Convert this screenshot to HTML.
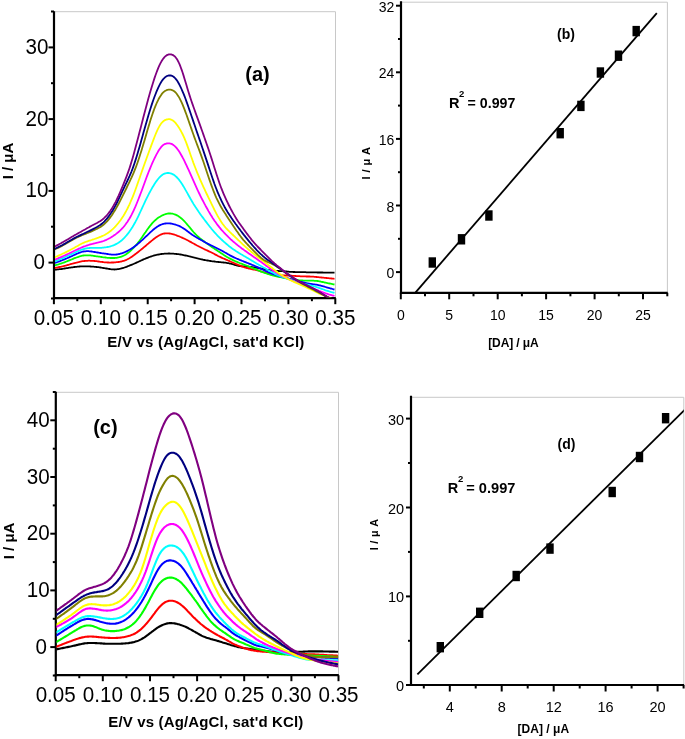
<!DOCTYPE html><html><head><meta charset="utf-8"><style>html,body{margin:0;padding:0;background:#fff;}svg{display:block;will-change:transform}</style></head><body>
<svg width="685" height="739" viewBox="0 0 685 739" font-family='"Liberation Sans", sans-serif' fill="#000">
<defs><clipPath id="ca"><rect x="55.0" y="11.2" width="280.5" height="286.0"/></clipPath>
<clipPath id="cc"><rect x="56.5" y="391.8" width="281.7" height="282.40000000000003"/></clipPath></defs>
<path d="M54,11.7 H335.5 V298.2" fill="none" stroke="#c8c8c8" stroke-width="1"/>
<line x1="54" y1="11.2" x2="54" y2="299.3" stroke="#000" stroke-width="2.2"/>
<line x1="52.9" y1="298.2" x2="335.8" y2="298.2" stroke="#000" stroke-width="2.2"/>
<line x1="48.5" y1="262.6" x2="54" y2="262.6" stroke="#000" stroke-width="2"/>
<line x1="48.5" y1="190.9" x2="54" y2="190.9" stroke="#000" stroke-width="2"/>
<line x1="48.5" y1="119.1" x2="54" y2="119.1" stroke="#000" stroke-width="2"/>
<line x1="48.5" y1="47.4" x2="54" y2="47.4" stroke="#000" stroke-width="2"/>
<line x1="51" y1="298.5" x2="54" y2="298.5" stroke="#000" stroke-width="2"/>
<line x1="51" y1="226.7" x2="54" y2="226.7" stroke="#000" stroke-width="2"/>
<line x1="51" y1="155" x2="54" y2="155" stroke="#000" stroke-width="2"/>
<line x1="51" y1="83.2" x2="54" y2="83.2" stroke="#000" stroke-width="2"/>
<line x1="51" y1="11.5" x2="54" y2="11.5" stroke="#000" stroke-width="2"/>
<line x1="53.9" y1="298.2" x2="53.9" y2="304.2" stroke="#000" stroke-width="2"/>
<line x1="100.8" y1="298.2" x2="100.8" y2="304.2" stroke="#000" stroke-width="2"/>
<line x1="147.7" y1="298.2" x2="147.7" y2="304.2" stroke="#000" stroke-width="2"/>
<line x1="194.6" y1="298.2" x2="194.6" y2="304.2" stroke="#000" stroke-width="2"/>
<line x1="241.5" y1="298.2" x2="241.5" y2="304.2" stroke="#000" stroke-width="2"/>
<line x1="288.4" y1="298.2" x2="288.4" y2="304.2" stroke="#000" stroke-width="2"/>
<line x1="335.3" y1="298.2" x2="335.3" y2="304.2" stroke="#000" stroke-width="2"/>
<line x1="77.3" y1="298.2" x2="77.3" y2="301.2" stroke="#000" stroke-width="2"/>
<line x1="124.2" y1="298.2" x2="124.2" y2="301.2" stroke="#000" stroke-width="2"/>
<line x1="171.1" y1="298.2" x2="171.1" y2="301.2" stroke="#000" stroke-width="2"/>
<line x1="218.1" y1="298.2" x2="218.1" y2="301.2" stroke="#000" stroke-width="2"/>
<line x1="265" y1="298.2" x2="265" y2="301.2" stroke="#000" stroke-width="2"/>
<line x1="311.9" y1="298.2" x2="311.9" y2="301.2" stroke="#000" stroke-width="2"/>
<text transform="translate(45,269.1) scale(0.95,1)" font-size="21.7" text-anchor="end">0</text>
<text transform="translate(48.4,197.4) scale(0.95,1)" font-size="21.7" text-anchor="end">10</text>
<text transform="translate(48.4,125.6) scale(0.95,1)" font-size="21.7" text-anchor="end">20</text>
<text transform="translate(48.4,53.9) scale(0.95,1)" font-size="21.7" text-anchor="end">30</text>
<text transform="translate(53.9,324.5) scale(0.95,1)" font-size="21.7" text-anchor="middle">0.05</text>
<text transform="translate(100.8,324.5) scale(0.95,1)" font-size="21.7" text-anchor="middle">0.10</text>
<text transform="translate(147.7,324.5) scale(0.95,1)" font-size="21.7" text-anchor="middle">0.15</text>
<text transform="translate(194.6,324.5) scale(0.95,1)" font-size="21.7" text-anchor="middle">0.20</text>
<text transform="translate(241.5,324.5) scale(0.95,1)" font-size="21.7" text-anchor="middle">0.25</text>
<text transform="translate(288.4,324.5) scale(0.95,1)" font-size="21.7" text-anchor="middle">0.30</text>
<text transform="translate(335.3,324.5) scale(0.95,1)" font-size="21.7" text-anchor="middle">0.35</text>
<text x="107.3" y="347.1" font-size="15" text-anchor="start" font-weight="bold" textLength="197" lengthAdjust="spacing">E/V vs (Ag/AgCl, sat'd KCl)</text>
<text transform="translate(12.7,161) rotate(-90)" font-size="15" font-weight="bold" text-anchor="middle">I / μA</text>
<text x="245.3" y="80.8" font-size="20" text-anchor="start" font-weight="bold">(a)</text>
<path d="M53.5,269.9 L54.5,269.8 L55.5,269.7 L56.5,269.6 L57.5,269.4 L58.5,269.3 L59.5,269.2 L60.5,269.1 L61.5,269 L62.5,268.8 L63.5,268.7 L64.5,268.5 L65.5,268.4 L66.5,268.2 L67.5,268.1 L68.5,267.9 L69.5,267.7 L70.5,267.6 L71.5,267.4 L72.5,267.3 L73.5,267.1 L74.5,267 L75.5,266.9 L76.5,266.8 L77.5,266.7 L78.5,266.6 L79.5,266.5 L80.5,266.4 L81.5,266.4 L82.5,266.4 L83.5,266.3 L84.5,266.3 L85.5,266.3 L86.5,266.3 L87.5,266.4 L88.5,266.4 L89.5,266.4 L90.5,266.5 L91.5,266.6 L92.5,266.6 L93.5,266.7 L94.5,266.8 L95.5,266.9 L96.5,267 L97.5,267.1 L98.5,267.2 L99.5,267.4 L100.5,267.5 L101.5,267.7 L102.5,267.8 L103.5,268 L104.5,268.1 L105.5,268.3 L106.5,268.5 L107.5,268.7 L108.5,268.9 L109.5,269 L110.5,269.2 L111.5,269.3 L112.5,269.4 L113.5,269.4 L114.5,269.5 L115.5,269.4 L116.5,269.4 L117.5,269.2 L118.5,269.1 L119.5,268.9 L120.5,268.7 L121.5,268.4 L122.5,268.1 L123.5,267.8 L124.5,267.5 L125.5,267.1 L126.5,266.8 L127.5,266.4 L128.5,266 L129.5,265.6 L130.5,265.2 L131.5,264.8 L132.5,264.4 L133.5,264 L134.5,263.5 L135.5,263.1 L136.5,262.6 L137.5,262.2 L138.5,261.7 L139.5,261.2 L140.5,260.8 L141.5,260.3 L142.5,259.9 L143.5,259.4 L144.5,259 L145.5,258.6 L146.5,258.2 L147.5,257.8 L148.5,257.4 L149.5,257 L150.5,256.6 L151.5,256.3 L152.5,256 L153.5,255.7 L154.5,255.4 L155.5,255.1 L156.5,254.9 L157.5,254.6 L158.5,254.5 L159.5,254.3 L160.5,254.1 L161.5,254 L162.5,253.9 L163.5,253.8 L164.5,253.7 L165.5,253.6 L166.5,253.6 L167.5,253.6 L168.5,253.5 L169.5,253.5 L170.5,253.6 L171.5,253.6 L172.5,253.6 L173.5,253.7 L174.5,253.8 L175.5,253.9 L176.5,254 L177.5,254.1 L178.5,254.2 L179.5,254.4 L180.5,254.5 L181.5,254.7 L182.5,254.9 L183.5,255.1 L184.5,255.3 L185.5,255.5 L186.5,255.7 L187.5,255.9 L188.5,256.2 L189.5,256.4 L190.5,256.6 L191.5,256.9 L192.5,257.1 L193.5,257.4 L194.5,257.6 L195.5,257.9 L196.5,258.1 L197.5,258.4 L198.5,258.6 L199.5,258.9 L200.5,259.1 L201.5,259.3 L202.5,259.5 L203.5,259.8 L204.5,260 L205.5,260.2 L206.5,260.3 L207.5,260.5 L208.5,260.7 L209.5,260.9 L210.5,261 L211.5,261.2 L212.5,261.3 L213.5,261.4 L214.5,261.5 L215.5,261.7 L216.5,261.8 L217.5,261.9 L218.5,262 L219.5,262.1 L220.5,262.2 L221.5,262.3 L222.5,262.4 L223.5,262.5 L224.5,262.6 L225.5,262.7 L226.5,262.9 L227.5,263.1 L228.5,263.2 L229.5,263.5 L230.5,263.7 L231.5,263.9 L232.5,264.2 L233.5,264.5 L234.5,264.8 L235.5,265 L236.5,265.3 L237.5,265.6 L238.5,265.8 L239.5,266 L240.5,266.1 L241.5,266.3 L242.5,266.3 L243.5,266.4 L244.5,266.4 L245.5,266.5 L246.5,266.5 L247.5,266.6 L248.5,266.7 L249.5,266.8 L250.5,266.9 L251.5,267 L252.5,267.2 L253.5,267.3 L254.5,267.5 L255.5,267.6 L256.5,267.8 L257.5,267.9 L258.5,268.1 L259.5,268.3 L260.5,268.5 L261.5,268.7 L262.5,268.9 L263.5,269.1 L264.5,269.2 L265.5,269.4 L266.5,269.6 L267.5,269.8 L268.5,269.9 L269.5,270.1 L270.5,270.2 L271.5,270.4 L272.5,270.5 L273.5,270.6 L274.5,270.7 L275.5,270.8 L276.5,270.9 L277.5,270.9 L278.5,271 L279.5,271.1 L280.5,271.1 L281.5,271.2 L282.5,271.2 L283.5,271.3 L284.5,271.4 L285.5,271.5 L286.5,271.5 L287.5,271.6 L288.5,271.7 L289.5,271.8 L290.5,271.8 L291.5,271.9 L292.5,271.9 L293.5,272 L294.5,272 L295.5,272.1 L296.5,272.1 L297.5,272.1 L298.5,272.1 L299.5,272.2 L300.5,272.2 L301.5,272.2 L302.5,272.2 L303.5,272.2 L304.5,272.2 L305.5,272.2 L306.5,272.3 L307.5,272.3 L308.5,272.3 L309.5,272.3 L310.5,272.3 L311.5,272.3 L312.5,272.4 L313.5,272.4 L314.5,272.4 L315.5,272.4 L316.5,272.4 L317.5,272.5 L318.5,272.5 L319.5,272.5 L320.5,272.5 L321.5,272.5 L322.5,272.5 L323.5,272.6 L324.5,272.6 L325.5,272.6 L326.5,272.6 L327.5,272.6 L328.5,272.6 L329.5,272.6 L330.5,272.6 L331.5,272.7 L332.5,272.7 L333.5,272.7 L334.5,272.7" fill="none" stroke="#000000" stroke-width="1.8" stroke-linejoin="round" clip-path="url(#ca)"/>
<path d="M53.5,268.3 L54.5,268.1 L55.5,267.9 L56.5,267.7 L57.5,267.5 L58.5,267.2 L59.5,267 L60.5,266.8 L61.5,266.6 L62.5,266.3 L63.5,266.1 L64.5,265.8 L65.5,265.6 L66.5,265.3 L67.5,265 L68.5,264.8 L69.5,264.5 L70.5,264.2 L71.5,263.9 L72.5,263.7 L73.5,263.4 L74.5,263.1 L75.5,262.8 L76.5,262.6 L77.5,262.3 L78.5,262.1 L79.5,261.8 L80.5,261.6 L81.5,261.4 L82.5,261.2 L83.5,261.1 L84.5,261 L85.5,260.9 L86.5,260.8 L87.5,260.8 L88.5,260.7 L89.5,260.7 L90.5,260.8 L91.5,260.8 L92.5,260.9 L93.5,260.9 L94.5,261 L95.5,261.1 L96.5,261.2 L97.5,261.4 L98.5,261.5 L99.5,261.6 L100.5,261.8 L101.5,261.9 L102.5,262 L103.5,262.2 L104.5,262.3 L105.5,262.4 L106.5,262.4 L107.5,262.5 L108.5,262.5 L109.5,262.6 L110.5,262.6 L111.5,262.5 L112.5,262.5 L113.5,262.5 L114.5,262.4 L115.5,262.3 L116.5,262.2 L117.5,262.1 L118.5,262 L119.5,261.9 L120.5,261.7 L121.5,261.5 L122.5,261.2 L123.5,260.9 L124.5,260.6 L125.5,260.2 L126.5,259.8 L127.5,259.3 L128.5,258.7 L129.5,258.2 L130.5,257.6 L131.5,256.9 L132.5,256.2 L133.5,255.5 L134.5,254.8 L135.5,254 L136.5,253.3 L137.5,252.5 L138.5,251.7 L139.5,250.9 L140.5,250.1 L141.5,249.3 L142.5,248.5 L143.5,247.6 L144.5,246.8 L145.5,246 L146.5,245.1 L147.5,244.2 L148.5,243.4 L149.5,242.5 L150.5,241.7 L151.5,240.9 L152.5,240.1 L153.5,239.3 L154.5,238.5 L155.5,237.8 L156.5,237.1 L157.5,236.4 L158.5,235.8 L159.5,235.2 L160.5,234.7 L161.5,234.3 L162.5,233.9 L163.5,233.7 L164.5,233.5 L165.5,233.4 L166.5,233.3 L167.5,233.3 L168.5,233.4 L169.5,233.5 L170.5,233.7 L171.5,233.9 L172.5,234.1 L173.5,234.4 L174.5,234.7 L175.5,235 L176.5,235.4 L177.5,235.8 L178.5,236.1 L179.5,236.5 L180.5,237 L181.5,237.4 L182.5,237.9 L183.5,238.3 L184.5,238.8 L185.5,239.3 L186.5,239.8 L187.5,240.3 L188.5,240.8 L189.5,241.4 L190.5,241.9 L191.5,242.4 L192.5,243 L193.5,243.5 L194.5,244.1 L195.5,244.6 L196.5,245.2 L197.5,245.7 L198.5,246.2 L199.5,246.8 L200.5,247.3 L201.5,247.8 L202.5,248.3 L203.5,248.8 L204.5,249.3 L205.5,249.7 L206.5,250.2 L207.5,250.6 L208.5,251.1 L209.5,251.6 L210.5,252 L211.5,252.5 L212.5,253 L213.5,253.5 L214.5,254.1 L215.5,254.6 L216.5,255.1 L217.5,255.7 L218.5,256.2 L219.5,256.7 L220.5,257.1 L221.5,257.6 L222.5,258.1 L223.5,258.5 L224.5,258.9 L225.5,259.4 L226.5,259.8 L227.5,260.2 L228.5,260.7 L229.5,261.1 L230.5,261.5 L231.5,262 L232.5,262.4 L233.5,262.8 L234.5,263.3 L235.5,263.7 L236.5,264.2 L237.5,264.6 L238.5,265 L239.5,265.4 L240.5,265.8 L241.5,266.2 L242.5,266.6 L243.5,267 L244.5,267.3 L245.5,267.6 L246.5,268 L247.5,268.2 L248.5,268.5 L249.5,268.7 L250.5,268.9 L251.5,269.1 L252.5,269.3 L253.5,269.5 L254.5,269.7 L255.5,269.9 L256.5,270.2 L257.5,270.4 L258.5,270.7 L259.5,271 L260.5,271.3 L261.5,271.6 L262.5,271.9 L263.5,272.2 L264.5,272.4 L265.5,272.7 L266.5,273 L267.5,273.3 L268.5,273.5 L269.5,273.8 L270.5,274 L271.5,274.2 L272.5,274.4 L273.5,274.5 L274.5,274.7 L275.5,274.8 L276.5,275 L277.5,275.1 L278.5,275.2 L279.5,275.2 L280.5,275.3 L281.5,275.4 L282.5,275.4 L283.5,275.5 L284.5,275.5 L285.5,275.5 L286.5,275.5 L287.5,275.6 L288.5,275.6 L289.5,275.6 L290.5,275.7 L291.5,275.7 L292.5,275.8 L293.5,275.9 L294.5,275.9 L295.5,276 L296.5,276.1 L297.5,276.1 L298.5,276.2 L299.5,276.2 L300.5,276.3 L301.5,276.3 L302.5,276.4 L303.5,276.4 L304.5,276.4 L305.5,276.4 L306.5,276.5 L307.5,276.5 L308.5,276.5 L309.5,276.5 L310.5,276.6 L311.5,276.6 L312.5,276.7 L313.5,276.7 L314.5,276.8 L315.5,276.9 L316.5,277 L317.5,277.1 L318.5,277.2 L319.5,277.3 L320.5,277.4 L321.5,277.5 L322.5,277.6 L323.5,277.7 L324.5,277.8 L325.5,277.9 L326.5,278 L327.5,278.1 L328.5,278.2 L329.5,278.3 L330.5,278.4 L331.5,278.5 L332.5,278.6 L333.5,278.7 L334.5,278.8" fill="none" stroke="#ff0000" stroke-width="1.8" stroke-linejoin="round" clip-path="url(#ca)"/>
<path d="M53.5,265.8 L54.5,265.5 L55.5,265.2 L56.5,264.9 L57.5,264.6 L58.5,264.3 L59.5,264 L60.5,263.7 L61.5,263.3 L62.5,263 L63.5,262.7 L64.5,262.3 L65.5,261.9 L66.5,261.5 L67.5,261.1 L68.5,260.7 L69.5,260.3 L70.5,259.9 L71.5,259.5 L72.5,259.1 L73.5,258.6 L74.5,258.2 L75.5,257.8 L76.5,257.5 L77.5,257.1 L78.5,256.8 L79.5,256.4 L80.5,256.2 L81.5,255.9 L82.5,255.7 L83.5,255.5 L84.5,255.4 L85.5,255.3 L86.5,255.3 L87.5,255.3 L88.5,255.3 L89.5,255.4 L90.5,255.4 L91.5,255.6 L92.5,255.7 L93.5,255.8 L94.5,256 L95.5,256.1 L96.5,256.3 L97.5,256.4 L98.5,256.6 L99.5,256.7 L100.5,256.9 L101.5,257 L102.5,257.2 L103.5,257.3 L104.5,257.4 L105.5,257.5 L106.5,257.7 L107.5,257.8 L108.5,257.9 L109.5,257.9 L110.5,258 L111.5,258 L112.5,258 L113.5,258 L114.5,258 L115.5,257.9 L116.5,257.8 L117.5,257.6 L118.5,257.4 L119.5,257.2 L120.5,256.9 L121.5,256.6 L122.5,256.2 L123.5,255.7 L124.5,255.2 L125.5,254.7 L126.5,254 L127.5,253.3 L128.5,252.6 L129.5,251.7 L130.5,250.9 L131.5,249.9 L132.5,248.9 L133.5,247.9 L134.5,246.8 L135.5,245.7 L136.5,244.6 L137.5,243.4 L138.5,242.1 L139.5,240.8 L140.5,239.4 L141.5,238 L142.5,236.6 L143.5,235.1 L144.5,233.6 L145.5,232.2 L146.5,230.7 L147.5,229.3 L148.5,227.9 L149.5,226.6 L150.5,225.3 L151.5,224.1 L152.5,222.9 L153.5,221.9 L154.5,220.9 L155.5,220 L156.5,219.1 L157.5,218.3 L158.5,217.6 L159.5,217 L160.5,216.4 L161.5,215.8 L162.5,215.3 L163.5,214.9 L164.5,214.5 L165.5,214.1 L166.5,213.9 L167.5,213.7 L168.5,213.5 L169.5,213.5 L170.5,213.5 L171.5,213.6 L172.5,213.7 L173.5,214 L174.5,214.3 L175.5,214.6 L176.5,215.1 L177.5,215.6 L178.5,216.2 L179.5,216.9 L180.5,217.7 L181.5,218.5 L182.5,219.4 L183.5,220.4 L184.5,221.4 L185.5,222.5 L186.5,223.6 L187.5,224.8 L188.5,226 L189.5,227.2 L190.5,228.4 L191.5,229.6 L192.5,230.8 L193.5,232 L194.5,233.1 L195.5,234.2 L196.5,235.2 L197.5,236.1 L198.5,237 L199.5,237.9 L200.5,238.7 L201.5,239.5 L202.5,240.3 L203.5,241.1 L204.5,241.8 L205.5,242.5 L206.5,243.2 L207.5,243.9 L208.5,244.6 L209.5,245.3 L210.5,246 L211.5,246.7 L212.5,247.4 L213.5,248.1 L214.5,248.7 L215.5,249.4 L216.5,250.1 L217.5,250.8 L218.5,251.4 L219.5,252.1 L220.5,252.8 L221.5,253.5 L222.5,254.1 L223.5,254.8 L224.5,255.4 L225.5,256.1 L226.5,256.7 L227.5,257.3 L228.5,257.8 L229.5,258.4 L230.5,258.9 L231.5,259.4 L232.5,259.9 L233.5,260.4 L234.5,260.8 L235.5,261.3 L236.5,261.7 L237.5,262.1 L238.5,262.5 L239.5,263 L240.5,263.4 L241.5,263.7 L242.5,264.1 L243.5,264.5 L244.5,264.9 L245.5,265.3 L246.5,265.7 L247.5,266 L248.5,266.4 L249.5,266.8 L250.5,267.2 L251.5,267.6 L252.5,268 L253.5,268.4 L254.5,268.8 L255.5,269.2 L256.5,269.6 L257.5,270 L258.5,270.5 L259.5,270.9 L260.5,271.3 L261.5,271.7 L262.5,272.1 L263.5,272.5 L264.5,272.9 L265.5,273.2 L266.5,273.5 L267.5,273.9 L268.5,274.2 L269.5,274.5 L270.5,274.8 L271.5,275 L272.5,275.3 L273.5,275.6 L274.5,275.8 L275.5,276.1 L276.5,276.3 L277.5,276.6 L278.5,276.8 L279.5,277 L280.5,277.2 L281.5,277.4 L282.5,277.6 L283.5,277.8 L284.5,278 L285.5,278.1 L286.5,278.3 L287.5,278.5 L288.5,278.6 L289.5,278.8 L290.5,279 L291.5,279.1 L292.5,279.3 L293.5,279.4 L294.5,279.6 L295.5,279.8 L296.5,279.9 L297.5,280 L298.5,280.2 L299.5,280.3 L300.5,280.4 L301.5,280.4 L302.5,280.5 L303.5,280.6 L304.5,280.6 L305.5,280.6 L306.5,280.7 L307.5,280.7 L308.5,280.7 L309.5,280.7 L310.5,280.7 L311.5,280.7 L312.5,280.7 L313.5,280.7 L314.5,280.8 L315.5,280.8 L316.5,280.9 L317.5,281 L318.5,281.1 L319.5,281.3 L320.5,281.5 L321.5,281.8 L322.5,282 L323.5,282.2 L324.5,282.5 L325.5,282.7 L326.5,282.9 L327.5,283.1 L328.5,283.3 L329.5,283.5 L330.5,283.7 L331.5,283.9 L332.5,284.1 L333.5,284.3 L334.5,284.5" fill="none" stroke="#00ff00" stroke-width="1.8" stroke-linejoin="round" clip-path="url(#ca)"/>
<path d="M53.5,263.5 L54.5,263.1 L55.5,262.7 L56.5,262.4 L57.5,262 L58.5,261.7 L59.5,261.3 L60.5,260.9 L61.5,260.5 L62.5,260.1 L63.5,259.7 L64.5,259.3 L65.5,258.9 L66.5,258.5 L67.5,258 L68.5,257.6 L69.5,257.1 L70.5,256.7 L71.5,256.2 L72.5,255.8 L73.5,255.3 L74.5,254.8 L75.5,254.4 L76.5,253.9 L77.5,253.5 L78.5,253.1 L79.5,252.7 L80.5,252.3 L81.5,252 L82.5,251.7 L83.5,251.5 L84.5,251.4 L85.5,251.3 L86.5,251.2 L87.5,251.2 L88.5,251.2 L89.5,251.3 L90.5,251.4 L91.5,251.5 L92.5,251.7 L93.5,251.8 L94.5,252 L95.5,252.2 L96.5,252.4 L97.5,252.5 L98.5,252.7 L99.5,252.9 L100.5,253 L101.5,253.2 L102.5,253.3 L103.5,253.4 L104.5,253.6 L105.5,253.7 L106.5,253.9 L107.5,254 L108.5,254.2 L109.5,254.3 L110.5,254.4 L111.5,254.6 L112.5,254.6 L113.5,254.7 L114.5,254.7 L115.5,254.6 L116.5,254.5 L117.5,254.4 L118.5,254.2 L119.5,254 L120.5,253.7 L121.5,253.4 L122.5,253.1 L123.5,252.7 L124.5,252.3 L125.5,251.8 L126.5,251.4 L127.5,250.9 L128.5,250.3 L129.5,249.8 L130.5,249.2 L131.5,248.6 L132.5,247.9 L133.5,247.2 L134.5,246.5 L135.5,245.8 L136.5,245 L137.5,244.2 L138.5,243.3 L139.5,242.5 L140.5,241.6 L141.5,240.7 L142.5,239.8 L143.5,238.8 L144.5,237.9 L145.5,236.9 L146.5,236 L147.5,235.1 L148.5,234.1 L149.5,233.2 L150.5,232.2 L151.5,231.3 L152.5,230.4 L153.5,229.5 L154.5,228.7 L155.5,227.9 L156.5,227.2 L157.5,226.5 L158.5,225.9 L159.5,225.4 L160.5,224.9 L161.5,224.5 L162.5,224.2 L163.5,223.9 L164.5,223.7 L165.5,223.5 L166.5,223.4 L167.5,223.3 L168.5,223.4 L169.5,223.4 L170.5,223.5 L171.5,223.7 L172.5,223.9 L173.5,224.2 L174.5,224.4 L175.5,224.7 L176.5,225 L177.5,225.4 L178.5,225.7 L179.5,226.1 L180.5,226.6 L181.5,227.2 L182.5,227.7 L183.5,228.4 L184.5,229.1 L185.5,229.8 L186.5,230.5 L187.5,231.3 L188.5,232 L189.5,232.8 L190.5,233.5 L191.5,234.2 L192.5,234.9 L193.5,235.5 L194.5,236.2 L195.5,236.8 L196.5,237.4 L197.5,238 L198.5,238.6 L199.5,239.1 L200.5,239.7 L201.5,240.3 L202.5,240.8 L203.5,241.4 L204.5,241.9 L205.5,242.5 L206.5,243 L207.5,243.6 L208.5,244.1 L209.5,244.6 L210.5,245.1 L211.5,245.5 L212.5,246 L213.5,246.5 L214.5,247 L215.5,247.5 L216.5,248 L217.5,248.5 L218.5,249 L219.5,249.5 L220.5,250 L221.5,250.5 L222.5,251.1 L223.5,251.6 L224.5,252.2 L225.5,252.7 L226.5,253.3 L227.5,253.9 L228.5,254.5 L229.5,255.1 L230.5,255.6 L231.5,256.1 L232.5,256.6 L233.5,257.1 L234.5,257.6 L235.5,258 L236.5,258.5 L237.5,258.9 L238.5,259.3 L239.5,259.8 L240.5,260.2 L241.5,260.6 L242.5,261 L243.5,261.4 L244.5,261.8 L245.5,262.2 L246.5,262.6 L247.5,263 L248.5,263.4 L249.5,263.8 L250.5,264.2 L251.5,264.6 L252.5,265 L253.5,265.4 L254.5,265.8 L255.5,266.3 L256.5,266.7 L257.5,267.1 L258.5,267.6 L259.5,268.1 L260.5,268.5 L261.5,269 L262.5,269.5 L263.5,270 L264.5,270.5 L265.5,271 L266.5,271.5 L267.5,271.9 L268.5,272.3 L269.5,272.7 L270.5,273.1 L271.5,273.5 L272.5,273.9 L273.5,274.2 L274.5,274.5 L275.5,274.8 L276.5,275.2 L277.5,275.5 L278.5,275.8 L279.5,276 L280.5,276.3 L281.5,276.6 L282.5,276.9 L283.5,277.2 L284.5,277.5 L285.5,277.8 L286.5,278 L287.5,278.3 L288.5,278.6 L289.5,278.9 L290.5,279.2 L291.5,279.4 L292.5,279.7 L293.5,280 L294.5,280.2 L295.5,280.5 L296.5,280.8 L297.5,281 L298.5,281.3 L299.5,281.5 L300.5,281.8 L301.5,282 L302.5,282.2 L303.5,282.5 L304.5,282.7 L305.5,282.9 L306.5,283.1 L307.5,283.3 L308.5,283.5 L309.5,283.6 L310.5,283.8 L311.5,284 L312.5,284.1 L313.5,284.3 L314.5,284.4 L315.5,284.6 L316.5,284.7 L317.5,284.9 L318.5,285.1 L319.5,285.3 L320.5,285.5 L321.5,285.8 L322.5,286.1 L323.5,286.4 L324.5,286.7 L325.5,287 L326.5,287.3 L327.5,287.6 L328.5,287.9 L329.5,288.2 L330.5,288.5 L331.5,288.7 L332.5,289 L333.5,289.3 L334.5,289.5" fill="none" stroke="#0000ff" stroke-width="1.8" stroke-linejoin="round" clip-path="url(#ca)"/>
<path d="M53.5,261.9 L54.5,261.5 L55.5,261.1 L56.5,260.7 L57.5,260.3 L58.5,259.8 L59.5,259.4 L60.5,259 L61.5,258.6 L62.5,258.1 L63.5,257.7 L64.5,257.3 L65.5,256.8 L66.5,256.4 L67.5,255.9 L68.5,255.5 L69.5,255 L70.5,254.6 L71.5,254.1 L72.5,253.7 L73.5,253.2 L74.5,252.7 L75.5,252.3 L76.5,251.8 L77.5,251.4 L78.5,250.9 L79.5,250.5 L80.5,250.1 L81.5,249.7 L82.5,249.4 L83.5,249.1 L84.5,248.8 L85.5,248.5 L86.5,248.4 L87.5,248.2 L88.5,248.1 L89.5,248 L90.5,247.9 L91.5,247.8 L92.5,247.8 L93.5,247.8 L94.5,247.8 L95.5,247.8 L96.5,247.9 L97.5,247.9 L98.5,247.9 L99.5,247.9 L100.5,247.8 L101.5,247.8 L102.5,247.7 L103.5,247.6 L104.5,247.4 L105.5,247.3 L106.5,247.2 L107.5,247 L108.5,246.8 L109.5,246.6 L110.5,246.3 L111.5,246 L112.5,245.7 L113.5,245.3 L114.5,244.9 L115.5,244.4 L116.5,243.9 L117.5,243.3 L118.5,242.7 L119.5,242 L120.5,241.3 L121.5,240.5 L122.5,239.6 L123.5,238.6 L124.5,237.6 L125.5,236.5 L126.5,235.4 L127.5,234.2 L128.5,232.9 L129.5,231.5 L130.5,230.1 L131.5,228.6 L132.5,227 L133.5,225.3 L134.5,223.5 L135.5,221.7 L136.5,219.8 L137.5,217.8 L138.5,215.8 L139.5,213.7 L140.5,211.5 L141.5,209.4 L142.5,207.2 L143.5,205 L144.5,202.8 L145.5,200.7 L146.5,198.6 L147.5,196.6 L148.5,194.6 L149.5,192.7 L150.5,190.9 L151.5,189.1 L152.5,187.3 L153.5,185.7 L154.5,184.1 L155.5,182.6 L156.5,181.1 L157.5,179.8 L158.5,178.5 L159.5,177.4 L160.5,176.4 L161.5,175.5 L162.5,174.7 L163.5,174.1 L164.5,173.7 L165.5,173.3 L166.5,173.1 L167.5,173 L168.5,173 L169.5,173.1 L170.5,173.3 L171.5,173.7 L172.5,174.1 L173.5,174.6 L174.5,175.3 L175.5,176.1 L176.5,177 L177.5,178 L178.5,179.2 L179.5,180.4 L180.5,181.8 L181.5,183.3 L182.5,184.8 L183.5,186.4 L184.5,188.1 L185.5,189.9 L186.5,191.6 L187.5,193.4 L188.5,195.2 L189.5,197 L190.5,198.8 L191.5,200.5 L192.5,202.2 L193.5,203.9 L194.5,205.5 L195.5,207.1 L196.5,208.6 L197.5,210.1 L198.5,211.6 L199.5,213 L200.5,214.4 L201.5,215.8 L202.5,217.1 L203.5,218.4 L204.5,219.8 L205.5,221.1 L206.5,222.4 L207.5,223.7 L208.5,225 L209.5,226.3 L210.5,227.5 L211.5,228.8 L212.5,230 L213.5,231.2 L214.5,232.3 L215.5,233.4 L216.5,234.5 L217.5,235.6 L218.5,236.6 L219.5,237.6 L220.5,238.6 L221.5,239.5 L222.5,240.5 L223.5,241.4 L224.5,242.3 L225.5,243.1 L226.5,244 L227.5,244.8 L228.5,245.7 L229.5,246.5 L230.5,247.2 L231.5,248 L232.5,248.7 L233.5,249.4 L234.5,250.1 L235.5,250.8 L236.5,251.4 L237.5,252 L238.5,252.7 L239.5,253.3 L240.5,253.9 L241.5,254.5 L242.5,255.1 L243.5,255.7 L244.5,256.2 L245.5,256.8 L246.5,257.4 L247.5,258 L248.5,258.6 L249.5,259.2 L250.5,259.8 L251.5,260.4 L252.5,261 L253.5,261.6 L254.5,262.2 L255.5,262.8 L256.5,263.4 L257.5,264 L258.5,264.6 L259.5,265.2 L260.5,265.8 L261.5,266.3 L262.5,266.9 L263.5,267.5 L264.5,268 L265.5,268.6 L266.5,269.2 L267.5,269.7 L268.5,270.3 L269.5,270.9 L270.5,271.4 L271.5,272 L272.5,272.5 L273.5,273 L274.5,273.6 L275.5,274.1 L276.5,274.6 L277.5,275 L278.5,275.5 L279.5,275.9 L280.5,276.3 L281.5,276.7 L282.5,277.1 L283.5,277.4 L284.5,277.8 L285.5,278.1 L286.5,278.5 L287.5,278.8 L288.5,279.1 L289.5,279.5 L290.5,279.8 L291.5,280.2 L292.5,280.5 L293.5,280.9 L294.5,281.2 L295.5,281.5 L296.5,281.9 L297.5,282.2 L298.5,282.5 L299.5,282.8 L300.5,283 L301.5,283.3 L302.5,283.5 L303.5,283.8 L304.5,284 L305.5,284.2 L306.5,284.5 L307.5,284.7 L308.5,284.9 L309.5,285.2 L310.5,285.4 L311.5,285.6 L312.5,285.9 L313.5,286.2 L314.5,286.5 L315.5,286.7 L316.5,287.1 L317.5,287.4 L318.5,287.7 L319.5,288.1 L320.5,288.4 L321.5,288.8 L322.5,289.2 L323.5,289.5 L324.5,289.9 L325.5,290.3 L326.5,290.6 L327.5,290.9 L328.5,291.2 L329.5,291.5 L330.5,291.8 L331.5,292.1 L332.5,292.3 L333.5,292.6 L334.5,292.9" fill="none" stroke="#00ffff" stroke-width="1.8" stroke-linejoin="round" clip-path="url(#ca)"/>
<path d="M53.5,260.2 L54.5,259.8 L55.5,259.4 L56.5,259 L57.5,258.6 L58.5,258.1 L59.5,257.7 L60.5,257.3 L61.5,256.9 L62.5,256.4 L63.5,256 L64.5,255.5 L65.5,255.1 L66.5,254.6 L67.5,254.2 L68.5,253.7 L69.5,253.2 L70.5,252.7 L71.5,252.3 L72.5,251.8 L73.5,251.3 L74.5,250.8 L75.5,250.3 L76.5,249.8 L77.5,249.4 L78.5,248.9 L79.5,248.4 L80.5,248 L81.5,247.5 L82.5,247.1 L83.5,246.7 L84.5,246.3 L85.5,246 L86.5,245.6 L87.5,245.3 L88.5,245 L89.5,244.7 L90.5,244.4 L91.5,244.1 L92.5,243.9 L93.5,243.6 L94.5,243.3 L95.5,243.1 L96.5,242.8 L97.5,242.6 L98.5,242.4 L99.5,242.1 L100.5,241.9 L101.5,241.6 L102.5,241.3 L103.5,241 L104.5,240.6 L105.5,240.2 L106.5,239.8 L107.5,239.3 L108.5,238.8 L109.5,238.2 L110.5,237.7 L111.5,237.1 L112.5,236.4 L113.5,235.8 L114.5,235.1 L115.5,234.4 L116.5,233.6 L117.5,232.8 L118.5,232 L119.5,231.1 L120.5,230.2 L121.5,229.2 L122.5,228.1 L123.5,227 L124.5,225.8 L125.5,224.5 L126.5,223.1 L127.5,221.7 L128.5,220.1 L129.5,218.5 L130.5,216.7 L131.5,214.9 L132.5,212.9 L133.5,210.8 L134.5,208.6 L135.5,206.4 L136.5,204 L137.5,201.5 L138.5,199 L139.5,196.4 L140.5,193.8 L141.5,191.2 L142.5,188.5 L143.5,185.7 L144.5,183 L145.5,180.3 L146.5,177.5 L147.5,174.9 L148.5,172.3 L149.5,169.8 L150.5,167.3 L151.5,165 L152.5,162.7 L153.5,160.5 L154.5,158.4 L155.5,156.3 L156.5,154.4 L157.5,152.6 L158.5,150.8 L159.5,149.3 L160.5,147.9 L161.5,146.7 L162.5,145.6 L163.5,144.8 L164.5,144.2 L165.5,143.8 L166.5,143.5 L167.5,143.3 L168.5,143.3 L169.5,143.4 L170.5,143.6 L171.5,143.9 L172.5,144.4 L173.5,145.1 L174.5,145.9 L175.5,146.8 L176.5,147.9 L177.5,149.2 L178.5,150.6 L179.5,152.1 L180.5,153.7 L181.5,155.5 L182.5,157.3 L183.5,159.2 L184.5,161.2 L185.5,163.3 L186.5,165.4 L187.5,167.6 L188.5,169.7 L189.5,171.9 L190.5,174.2 L191.5,176.4 L192.5,178.7 L193.5,180.9 L194.5,183.2 L195.5,185.4 L196.5,187.6 L197.5,189.8 L198.5,192 L199.5,194 L200.5,196.1 L201.5,198.1 L202.5,200 L203.5,201.9 L204.5,203.8 L205.5,205.7 L206.5,207.5 L207.5,209.3 L208.5,211.1 L209.5,212.8 L210.5,214.5 L211.5,216.1 L212.5,217.7 L213.5,219.2 L214.5,220.7 L215.5,222.1 L216.5,223.5 L217.5,224.9 L218.5,226.1 L219.5,227.4 L220.5,228.6 L221.5,229.8 L222.5,230.9 L223.5,232 L224.5,233.1 L225.5,234.2 L226.5,235.2 L227.5,236.2 L228.5,237.2 L229.5,238.1 L230.5,239.1 L231.5,240 L232.5,240.9 L233.5,241.8 L234.5,242.6 L235.5,243.4 L236.5,244.3 L237.5,245.1 L238.5,245.9 L239.5,246.6 L240.5,247.4 L241.5,248.2 L242.5,248.9 L243.5,249.6 L244.5,250.4 L245.5,251.1 L246.5,251.8 L247.5,252.5 L248.5,253.2 L249.5,253.9 L250.5,254.6 L251.5,255.3 L252.5,256 L253.5,256.7 L254.5,257.4 L255.5,258.1 L256.5,258.8 L257.5,259.5 L258.5,260.2 L259.5,260.9 L260.5,261.6 L261.5,262.3 L262.5,263 L263.5,263.7 L264.5,264.4 L265.5,265.2 L266.5,265.9 L267.5,266.6 L268.5,267.4 L269.5,268.1 L270.5,268.9 L271.5,269.6 L272.5,270.3 L273.5,270.9 L274.5,271.6 L275.5,272.2 L276.5,272.8 L277.5,273.4 L278.5,274 L279.5,274.5 L280.5,275.1 L281.5,275.6 L282.5,276.1 L283.5,276.6 L284.5,277.1 L285.5,277.5 L286.5,278 L287.5,278.5 L288.5,278.9 L289.5,279.4 L290.5,279.8 L291.5,280.3 L292.5,280.7 L293.5,281.2 L294.5,281.6 L295.5,282 L296.5,282.4 L297.5,282.9 L298.5,283.3 L299.5,283.6 L300.5,284 L301.5,284.4 L302.5,284.8 L303.5,285.1 L304.5,285.5 L305.5,285.8 L306.5,286.2 L307.5,286.5 L308.5,286.9 L309.5,287.2 L310.5,287.6 L311.5,287.9 L312.5,288.3 L313.5,288.7 L314.5,289.1 L315.5,289.4 L316.5,289.8 L317.5,290.2 L318.5,290.6 L319.5,291 L320.5,291.4 L321.5,291.8 L322.5,292.2 L323.5,292.5 L324.5,292.9 L325.5,293.3 L326.5,293.6 L327.5,293.9 L328.5,294.3 L329.5,294.6 L330.5,294.9 L331.5,295.2 L332.5,295.5 L333.5,295.7 L334.5,296" fill="none" stroke="#ff00ff" stroke-width="1.8" stroke-linejoin="round" clip-path="url(#ca)"/>
<path d="M53.5,257.9 L54.5,257.4 L55.5,257 L56.5,256.5 L57.5,256.1 L58.5,255.6 L59.5,255.2 L60.5,254.7 L61.5,254.3 L62.5,253.8 L63.5,253.3 L64.5,252.9 L65.5,252.4 L66.5,251.9 L67.5,251.4 L68.5,250.9 L69.5,250.4 L70.5,249.8 L71.5,249.3 L72.5,248.8 L73.5,248.2 L74.5,247.7 L75.5,247.1 L76.5,246.5 L77.5,246 L78.5,245.4 L79.5,244.8 L80.5,244.3 L81.5,243.8 L82.5,243.3 L83.5,242.8 L84.5,242.4 L85.5,242 L86.5,241.6 L87.5,241.3 L88.5,240.9 L89.5,240.6 L90.5,240.3 L91.5,240 L92.5,239.6 L93.5,239.3 L94.5,239 L95.5,238.6 L96.5,238.3 L97.5,237.9 L98.5,237.6 L99.5,237.2 L100.5,236.8 L101.5,236.4 L102.5,235.9 L103.5,235.5 L104.5,235 L105.5,234.4 L106.5,233.8 L107.5,233.2 L108.5,232.5 L109.5,231.8 L110.5,231 L111.5,230.2 L112.5,229.3 L113.5,228.4 L114.5,227.4 L115.5,226.3 L116.5,225.2 L117.5,224 L118.5,222.8 L119.5,221.5 L120.5,220.2 L121.5,218.7 L122.5,217.2 L123.5,215.7 L124.5,214 L125.5,212.2 L126.5,210.4 L127.5,208.5 L128.5,206.4 L129.5,204.3 L130.5,202 L131.5,199.7 L132.5,197.3 L133.5,194.8 L134.5,192.2 L135.5,189.5 L136.5,186.7 L137.5,183.9 L138.5,181 L139.5,178.2 L140.5,175.3 L141.5,172.5 L142.5,169.6 L143.5,166.8 L144.5,164 L145.5,161.2 L146.5,158.5 L147.5,155.7 L148.5,153 L149.5,150.3 L150.5,147.6 L151.5,144.9 L152.5,142.2 L153.5,139.6 L154.5,137 L155.5,134.5 L156.5,132.1 L157.5,129.9 L158.5,127.9 L159.5,126.1 L160.5,124.5 L161.5,123.1 L162.5,122 L163.5,121.1 L164.5,120.4 L165.5,119.9 L166.5,119.5 L167.5,119.3 L168.5,119.2 L169.5,119.2 L170.5,119.4 L171.5,119.8 L172.5,120.3 L173.5,121 L174.5,121.9 L175.5,122.9 L176.5,124.2 L177.5,125.6 L178.5,127.1 L179.5,128.6 L180.5,130.3 L181.5,132.1 L182.5,134 L183.5,136.1 L184.5,138.4 L185.5,140.8 L186.5,143.4 L187.5,146.1 L188.5,148.9 L189.5,151.8 L190.5,154.7 L191.5,157.5 L192.5,160.3 L193.5,163.1 L194.5,165.7 L195.5,168.3 L196.5,170.8 L197.5,173.3 L198.5,175.7 L199.5,178.1 L200.5,180.4 L201.5,182.7 L202.5,184.9 L203.5,187.1 L204.5,189.2 L205.5,191.4 L206.5,193.5 L207.5,195.5 L208.5,197.6 L209.5,199.7 L210.5,201.7 L211.5,203.8 L212.5,205.9 L213.5,207.9 L214.5,210 L215.5,211.9 L216.5,213.8 L217.5,215.7 L218.5,217.4 L219.5,219.1 L220.5,220.7 L221.5,222.3 L222.5,223.7 L223.5,225 L224.5,226.3 L225.5,227.5 L226.5,228.6 L227.5,229.7 L228.5,230.7 L229.5,231.7 L230.5,232.6 L231.5,233.6 L232.5,234.5 L233.5,235.5 L234.5,236.4 L235.5,237.4 L236.5,238.3 L237.5,239.3 L238.5,240.3 L239.5,241.2 L240.5,242.2 L241.5,243.1 L242.5,244.1 L243.5,245 L244.5,245.9 L245.5,246.8 L246.5,247.7 L247.5,248.6 L248.5,249.5 L249.5,250.3 L250.5,251.1 L251.5,252 L252.5,252.8 L253.5,253.6 L254.5,254.4 L255.5,255.2 L256.5,256 L257.5,256.7 L258.5,257.5 L259.5,258.3 L260.5,259 L261.5,259.7 L262.5,260.5 L263.5,261.2 L264.5,262 L265.5,262.7 L266.5,263.5 L267.5,264.3 L268.5,265.1 L269.5,265.9 L270.5,266.7 L271.5,267.5 L272.5,268.3 L273.5,269.1 L274.5,269.9 L275.5,270.7 L276.5,271.5 L277.5,272.3 L278.5,273 L279.5,273.8 L280.5,274.4 L281.5,275.1 L282.5,275.8 L283.5,276.4 L284.5,277 L285.5,277.5 L286.5,278.1 L287.5,278.6 L288.5,279.2 L289.5,279.7 L290.5,280.2 L291.5,280.7 L292.5,281.2 L293.5,281.6 L294.5,282.1 L295.5,282.6 L296.5,283 L297.5,283.5 L298.5,283.9 L299.5,284.3 L300.5,284.8 L301.5,285.2 L302.5,285.6 L303.5,286 L304.5,286.5 L305.5,286.9 L306.5,287.4 L307.5,287.9 L308.5,288.4 L309.5,288.8 L310.5,289.3 L311.5,289.8 L312.5,290.3 L313.5,290.8 L314.5,291.3 L315.5,291.8 L316.5,292.3 L317.5,292.8 L318.5,293.3 L319.5,293.7 L320.5,294.2 L321.5,294.6 L322.5,295 L323.5,295.4 L324.5,295.8 L325.5,296.2 L326.5,296.6 L327.5,297 L328.5,297.4 L329.5,297.8 L330.5,298.2 L331.5,298.6 L332.5,299 L333.5,299.4 L334.5,299.9 L335.5,300.3 L336.5,300.7" fill="none" stroke="#ffff00" stroke-width="1.8" stroke-linejoin="round" clip-path="url(#ca)"/>
<path d="M53.5,250 L54.5,249.5 L55.5,249 L56.5,248.5 L57.5,248.1 L58.5,247.6 L59.5,247.1 L60.5,246.6 L61.5,246.1 L62.5,245.6 L63.5,245 L64.5,244.5 L65.5,243.9 L66.5,243.3 L67.5,242.8 L68.5,242.2 L69.5,241.6 L70.5,241 L71.5,240.4 L72.5,239.9 L73.5,239.3 L74.5,238.8 L75.5,238.2 L76.5,237.7 L77.5,237.2 L78.5,236.8 L79.5,236.3 L80.5,235.9 L81.5,235.4 L82.5,235 L83.5,234.6 L84.5,234.2 L85.5,233.8 L86.5,233.4 L87.5,233 L88.5,232.6 L89.5,232.2 L90.5,231.8 L91.5,231.4 L92.5,230.9 L93.5,230.5 L94.5,230 L95.5,229.5 L96.5,229 L97.5,228.6 L98.5,228 L99.5,227.5 L100.5,226.9 L101.5,226.2 L102.5,225.5 L103.5,224.7 L104.5,223.9 L105.5,222.9 L106.5,221.9 L107.5,220.8 L108.5,219.7 L109.5,218.4 L110.5,217.1 L111.5,215.7 L112.5,214.2 L113.5,212.6 L114.5,211 L115.5,209.4 L116.5,207.6 L117.5,205.8 L118.5,204 L119.5,202.1 L120.5,200.2 L121.5,198.2 L122.5,196.2 L123.5,194.2 L124.5,192.1 L125.5,190.1 L126.5,188 L127.5,185.9 L128.5,183.9 L129.5,181.8 L130.5,179.7 L131.5,177.6 L132.5,175.4 L133.5,173.1 L134.5,170.7 L135.5,168.2 L136.5,165.5 L137.5,162.7 L138.5,159.8 L139.5,156.8 L140.5,153.6 L141.5,150.4 L142.5,147.1 L143.5,143.8 L144.5,140.4 L145.5,137 L146.5,133.5 L147.5,130.1 L148.5,126.7 L149.5,123.4 L150.5,120.1 L151.5,117 L152.5,114 L153.5,111.1 L154.5,108.3 L155.5,105.8 L156.5,103.5 L157.5,101.3 L158.5,99.3 L159.5,97.5 L160.5,95.9 L161.5,94.4 L162.5,93.2 L163.5,92.2 L164.5,91.3 L165.5,90.7 L166.5,90.2 L167.5,89.9 L168.5,89.7 L169.5,89.7 L170.5,89.7 L171.5,89.9 L172.5,90.3 L173.5,90.8 L174.5,91.5 L175.5,92.4 L176.5,93.5 L177.5,94.9 L178.5,96.4 L179.5,98.1 L180.5,100.1 L181.5,102.2 L182.5,104.4 L183.5,106.9 L184.5,109.4 L185.5,112.1 L186.5,114.8 L187.5,117.6 L188.5,120.5 L189.5,123.4 L190.5,126.2 L191.5,129.1 L192.5,132 L193.5,134.8 L194.5,137.6 L195.5,140.3 L196.5,143 L197.5,145.6 L198.5,148.3 L199.5,150.9 L200.5,153.6 L201.5,156.4 L202.5,159.2 L203.5,162 L204.5,165 L205.5,168 L206.5,171 L207.5,174 L208.5,177 L209.5,179.9 L210.5,182.8 L211.5,185.6 L212.5,188.3 L213.5,190.9 L214.5,193.4 L215.5,195.8 L216.5,198.1 L217.5,200.2 L218.5,202.2 L219.5,204.1 L220.5,206 L221.5,207.7 L222.5,209.4 L223.5,211 L224.5,212.6 L225.5,214.1 L226.5,215.7 L227.5,217.2 L228.5,218.8 L229.5,220.3 L230.5,221.8 L231.5,223.3 L232.5,224.8 L233.5,226.3 L234.5,227.7 L235.5,229.2 L236.5,230.7 L237.5,232.1 L238.5,233.6 L239.5,234.9 L240.5,236.3 L241.5,237.6 L242.5,238.9 L243.5,240.1 L244.5,241.2 L245.5,242.3 L246.5,243.4 L247.5,244.5 L248.5,245.5 L249.5,246.6 L250.5,247.6 L251.5,248.6 L252.5,249.6 L253.5,250.7 L254.5,251.7 L255.5,252.7 L256.5,253.7 L257.5,254.7 L258.5,255.6 L259.5,256.5 L260.5,257.4 L261.5,258.3 L262.5,259 L263.5,259.8 L264.5,260.4 L265.5,260.9 L266.5,261.4 L267.5,261.9 L268.5,262.3 L269.5,262.8 L270.5,263.2 L271.5,263.6 L272.5,264.1 L273.5,264.6 L274.5,265.2 L275.5,265.8 L276.5,266.4 L277.5,267.1 L278.5,267.8 L279.5,268.4 L280.5,269.1 L281.5,269.9 L282.5,270.6 L283.5,271.3 L284.5,272 L285.5,272.7 L286.5,273.5 L287.5,274.2 L288.5,274.9 L289.5,275.6 L290.5,276.3 L291.5,277 L292.5,277.6 L293.5,278.3 L294.5,279 L295.5,279.6 L296.5,280.3 L297.5,280.9 L298.5,281.5 L299.5,282.1 L300.5,282.7 L301.5,283.3 L302.5,283.9 L303.5,284.4 L304.5,285 L305.5,285.5 L306.5,286 L307.5,286.6 L308.5,287.1 L309.5,287.6 L310.5,288.2 L311.5,288.7 L312.5,289.3 L313.5,289.8 L314.5,290.3 L315.5,290.9 L316.5,291.4 L317.5,292 L318.5,292.5 L319.5,293 L320.5,293.5 L321.5,294 L322.5,294.5 L323.5,294.9 L324.5,295.4 L325.5,295.9 L326.5,296.4 L327.5,296.8 L328.5,297.3 L329.5,297.8 L330.5,298.4 L331.5,298.9 L332.5,299.4 L333.5,300 L334.5,300.5 L335.5,301.1 L336.5,301.7" fill="none" stroke="#808000" stroke-width="1.8" stroke-linejoin="round" clip-path="url(#ca)"/>
<path d="M53.5,249.5 L54.5,249 L55.5,248.5 L56.5,248 L57.5,247.5 L58.5,247 L59.5,246.5 L60.5,246 L61.5,245.5 L62.5,245 L63.5,244.4 L64.5,243.9 L65.5,243.3 L66.5,242.7 L67.5,242.1 L68.5,241.5 L69.5,240.9 L70.5,240.4 L71.5,239.8 L72.5,239.2 L73.5,238.6 L74.5,238.1 L75.5,237.6 L76.5,237 L77.5,236.5 L78.5,236.1 L79.5,235.6 L80.5,235.1 L81.5,234.6 L82.5,234.2 L83.5,233.7 L84.5,233.2 L85.5,232.8 L86.5,232.3 L87.5,231.8 L88.5,231.3 L89.5,230.9 L90.5,230.4 L91.5,229.9 L92.5,229.4 L93.5,228.9 L94.5,228.4 L95.5,227.8 L96.5,227.3 L97.5,226.7 L98.5,226.1 L99.5,225.5 L100.5,224.8 L101.5,224 L102.5,223.2 L103.5,222.3 L104.5,221.3 L105.5,220.2 L106.5,219.1 L107.5,217.9 L108.5,216.6 L109.5,215.3 L110.5,213.8 L111.5,212.3 L112.5,210.7 L113.5,209 L114.5,207.3 L115.5,205.4 L116.5,203.5 L117.5,201.5 L118.5,199.4 L119.5,197.3 L120.5,195.2 L121.5,193.1 L122.5,190.9 L123.5,188.8 L124.5,186.7 L125.5,184.6 L126.5,182.6 L127.5,180.5 L128.5,178.3 L129.5,176.2 L130.5,173.9 L131.5,171.5 L132.5,168.9 L133.5,166.1 L134.5,163.2 L135.5,160.1 L136.5,157 L137.5,153.7 L138.5,150.3 L139.5,146.9 L140.5,143.4 L141.5,139.8 L142.5,136.2 L143.5,132.6 L144.5,129 L145.5,125.5 L146.5,121.9 L147.5,118.4 L148.5,115 L149.5,111.7 L150.5,108.5 L151.5,105.4 L152.5,102.4 L153.5,99.5 L154.5,96.8 L155.5,94.2 L156.5,91.7 L157.5,89.3 L158.5,87.1 L159.5,85.1 L160.5,83.2 L161.5,81.6 L162.5,80.1 L163.5,78.8 L164.5,77.8 L165.5,76.9 L166.5,76.3 L167.5,75.8 L168.5,75.5 L169.5,75.4 L170.5,75.5 L171.5,75.7 L172.5,76.1 L173.5,76.7 L174.5,77.5 L175.5,78.6 L176.5,79.8 L177.5,81.3 L178.5,83 L179.5,84.8 L180.5,86.8 L181.5,89 L182.5,91.3 L183.5,93.7 L184.5,96.2 L185.5,98.8 L186.5,101.6 L187.5,104.4 L188.5,107.2 L189.5,110.1 L190.5,113 L191.5,116 L192.5,118.9 L193.5,121.9 L194.5,124.8 L195.5,127.7 L196.5,130.7 L197.5,133.6 L198.5,136.5 L199.5,139.4 L200.5,142.3 L201.5,145.3 L202.5,148.2 L203.5,151.1 L204.5,154.1 L205.5,157.1 L206.5,160.1 L207.5,163.1 L208.5,166.1 L209.5,169.2 L210.5,172.3 L211.5,175.3 L212.5,178.2 L213.5,181.1 L214.5,184 L215.5,186.7 L216.5,189.3 L217.5,191.8 L218.5,194.2 L219.5,196.5 L220.5,198.7 L221.5,200.8 L222.5,202.8 L223.5,204.8 L224.5,206.7 L225.5,208.5 L226.5,210.2 L227.5,211.9 L228.5,213.5 L229.5,215.1 L230.5,216.6 L231.5,218.1 L232.5,219.5 L233.5,220.9 L234.5,222.3 L235.5,223.7 L236.5,225 L237.5,226.4 L238.5,227.8 L239.5,229.1 L240.5,230.5 L241.5,231.8 L242.5,233.1 L243.5,234.4 L244.5,235.7 L245.5,236.9 L246.5,238.2 L247.5,239.4 L248.5,240.6 L249.5,241.8 L250.5,243 L251.5,244.2 L252.5,245.4 L253.5,246.5 L254.5,247.6 L255.5,248.7 L256.5,249.8 L257.5,250.8 L258.5,251.8 L259.5,252.8 L260.5,253.8 L261.5,254.7 L262.5,255.7 L263.5,256.5 L264.5,257.4 L265.5,258.2 L266.5,259 L267.5,259.7 L268.5,260.4 L269.5,261.1 L270.5,261.8 L271.5,262.5 L272.5,263.2 L273.5,263.9 L274.5,264.6 L275.5,265.3 L276.5,266 L277.5,266.7 L278.5,267.4 L279.5,268.1 L280.5,268.8 L281.5,269.5 L282.5,270.3 L283.5,271 L284.5,271.7 L285.5,272.5 L286.5,273.2 L287.5,273.9 L288.5,274.6 L289.5,275.3 L290.5,276 L291.5,276.7 L292.5,277.4 L293.5,278.1 L294.5,278.7 L295.5,279.3 L296.5,279.9 L297.5,280.5 L298.5,281.1 L299.5,281.7 L300.5,282.2 L301.5,282.8 L302.5,283.3 L303.5,283.8 L304.5,284.3 L305.5,284.8 L306.5,285.3 L307.5,285.8 L308.5,286.3 L309.5,286.8 L310.5,287.3 L311.5,287.8 L312.5,288.3 L313.5,288.8 L314.5,289.3 L315.5,289.9 L316.5,290.4 L317.5,291 L318.5,291.6 L319.5,292.2 L320.5,292.8 L321.5,293.5 L322.5,294.1 L323.5,294.8 L324.5,295.4 L325.5,296 L326.5,296.6 L327.5,297.2 L328.5,297.7 L329.5,298.3 L330.5,298.8 L331.5,299.3 L332.5,299.8 L333.5,300.3 L334.5,300.8 L335.5,301.3 L336.5,301.8" fill="none" stroke="#000080" stroke-width="1.8" stroke-linejoin="round" clip-path="url(#ca)"/>
<path d="M53.5,247.2 L54.5,246.7 L55.5,246.2 L56.5,245.6 L57.5,245.1 L58.5,244.6 L59.5,244 L60.5,243.5 L61.5,242.9 L62.5,242.4 L63.5,241.8 L64.5,241.2 L65.5,240.6 L66.5,240.1 L67.5,239.5 L68.5,238.9 L69.5,238.3 L70.5,237.7 L71.5,237.1 L72.5,236.5 L73.5,235.9 L74.5,235.3 L75.5,234.7 L76.5,234.2 L77.5,233.6 L78.5,233.1 L79.5,232.5 L80.5,232 L81.5,231.4 L82.5,230.8 L83.5,230.3 L84.5,229.7 L85.5,229.2 L86.5,228.6 L87.5,228 L88.5,227.5 L89.5,226.9 L90.5,226.4 L91.5,225.8 L92.5,225.3 L93.5,224.7 L94.5,224.2 L95.5,223.7 L96.5,223.2 L97.5,222.7 L98.5,222.1 L99.5,221.5 L100.5,220.9 L101.5,220.2 L102.5,219.5 L103.5,218.6 L104.5,217.7 L105.5,216.7 L106.5,215.7 L107.5,214.5 L108.5,213.2 L109.5,211.9 L110.5,210.5 L111.5,209 L112.5,207.4 L113.5,205.7 L114.5,203.9 L115.5,202.1 L116.5,200.1 L117.5,198 L118.5,195.9 L119.5,193.6 L120.5,191.3 L121.5,188.9 L122.5,186.5 L123.5,184.1 L124.5,181.7 L125.5,179.2 L126.5,176.6 L127.5,173.9 L128.5,171.1 L129.5,168.2 L130.5,165.1 L131.5,161.8 L132.5,158.4 L133.5,154.9 L134.5,151.3 L135.5,147.6 L136.5,143.8 L137.5,140 L138.5,136.2 L139.5,132.3 L140.5,128.5 L141.5,124.6 L142.5,120.7 L143.5,116.8 L144.5,113 L145.5,109.2 L146.5,105.4 L147.5,101.7 L148.5,98.1 L149.5,94.5 L150.5,91.1 L151.5,87.7 L152.5,84.4 L153.5,81.2 L154.5,78.1 L155.5,75.2 L156.5,72.5 L157.5,69.9 L158.5,67.4 L159.5,65.2 L160.5,63.2 L161.5,61.3 L162.5,59.7 L163.5,58.3 L164.5,57.1 L165.5,56.2 L166.5,55.4 L167.5,54.9 L168.5,54.5 L169.5,54.3 L170.5,54.3 L171.5,54.5 L172.5,54.9 L173.5,55.4 L174.5,56.2 L175.5,57.2 L176.5,58.5 L177.5,60.1 L178.5,62 L179.5,64.2 L180.5,66.7 L181.5,69.4 L182.5,72.3 L183.5,75.4 L184.5,78.7 L185.5,82 L186.5,85.3 L187.5,88.7 L188.5,92 L189.5,95.1 L190.5,98.2 L191.5,101.2 L192.5,104.1 L193.5,107 L194.5,109.8 L195.5,112.6 L196.5,115.4 L197.5,118.1 L198.5,120.9 L199.5,123.6 L200.5,126.4 L201.5,129.2 L202.5,132 L203.5,134.9 L204.5,137.7 L205.5,140.6 L206.5,143.5 L207.5,146.4 L208.5,149.3 L209.5,152.3 L210.5,155.3 L211.5,158.4 L212.5,161.5 L213.5,164.7 L214.5,167.9 L215.5,171 L216.5,174.2 L217.5,177.3 L218.5,180.3 L219.5,183.2 L220.5,186 L221.5,188.7 L222.5,191.2 L223.5,193.6 L224.5,195.9 L225.5,198.1 L226.5,200.3 L227.5,202.4 L228.5,204.5 L229.5,206.5 L230.5,208.4 L231.5,210.3 L232.5,212.1 L233.5,213.9 L234.5,215.6 L235.5,217.3 L236.5,218.9 L237.5,220.5 L238.5,222 L239.5,223.4 L240.5,224.8 L241.5,226.2 L242.5,227.6 L243.5,229 L244.5,230.4 L245.5,231.7 L246.5,233.1 L247.5,234.4 L248.5,235.7 L249.5,237 L250.5,238.3 L251.5,239.6 L252.5,240.8 L253.5,242 L254.5,243.2 L255.5,244.3 L256.5,245.4 L257.5,246.5 L258.5,247.5 L259.5,248.5 L260.5,249.5 L261.5,250.6 L262.5,251.6 L263.5,252.6 L264.5,253.6 L265.5,254.7 L266.5,255.7 L267.5,256.7 L268.5,257.7 L269.5,258.7 L270.5,259.7 L271.5,260.7 L272.5,261.6 L273.5,262.5 L274.5,263.4 L275.5,264.2 L276.5,265.1 L277.5,265.9 L278.5,266.7 L279.5,267.5 L280.5,268.3 L281.5,269.1 L282.5,269.9 L283.5,270.7 L284.5,271.5 L285.5,272.2 L286.5,273 L287.5,273.7 L288.5,274.4 L289.5,275.2 L290.5,275.9 L291.5,276.5 L292.5,277.2 L293.5,277.9 L294.5,278.5 L295.5,279.1 L296.5,279.7 L297.5,280.3 L298.5,280.9 L299.5,281.4 L300.5,282 L301.5,282.5 L302.5,283.1 L303.5,283.6 L304.5,284.1 L305.5,284.6 L306.5,285.1 L307.5,285.6 L308.5,286.1 L309.5,286.6 L310.5,287.1 L311.5,287.6 L312.5,288.1 L313.5,288.6 L314.5,289.1 L315.5,289.7 L316.5,290.2 L317.5,290.8 L318.5,291.4 L319.5,292 L320.5,292.6 L321.5,293.3 L322.5,293.9 L323.5,294.6 L324.5,295.2 L325.5,295.8 L326.5,296.4 L327.5,297 L328.5,297.6 L329.5,298.1 L330.5,298.7 L331.5,299.2 L332.5,299.7 L333.5,300.2 L334.5,300.8 L335.5,301.3 L336.5,301.8" fill="none" stroke="#800080" stroke-width="1.8" stroke-linejoin="round" clip-path="url(#ca)"/>
<path d="M401,2.2 H667.4 V292.8" fill="none" stroke="#c8c8c8" stroke-width="1"/>
<line x1="401" y1="1.2" x2="401" y2="293.9" stroke="#000" stroke-width="2.2"/>
<line x1="399.9" y1="292.8" x2="667.7" y2="292.8" stroke="#000" stroke-width="2.2"/>
<line x1="396" y1="272.1" x2="401" y2="272.1" stroke="#000" stroke-width="2"/>
<line x1="396" y1="205.5" x2="401" y2="205.5" stroke="#000" stroke-width="2"/>
<line x1="396" y1="138.9" x2="401" y2="138.9" stroke="#000" stroke-width="2"/>
<line x1="396" y1="72.3" x2="401" y2="72.3" stroke="#000" stroke-width="2"/>
<line x1="396" y1="5.7" x2="401" y2="5.7" stroke="#000" stroke-width="2"/>
<line x1="398" y1="238.8" x2="401" y2="238.8" stroke="#000" stroke-width="2"/>
<line x1="398" y1="172.2" x2="401" y2="172.2" stroke="#000" stroke-width="2"/>
<line x1="398" y1="105.6" x2="401" y2="105.6" stroke="#000" stroke-width="2"/>
<line x1="398" y1="39" x2="401" y2="39" stroke="#000" stroke-width="2"/>
<line x1="400.8" y1="292.8" x2="400.8" y2="299.3" stroke="#000" stroke-width="2"/>
<line x1="449.2" y1="292.8" x2="449.2" y2="299.3" stroke="#000" stroke-width="2"/>
<line x1="497.7" y1="292.8" x2="497.7" y2="299.3" stroke="#000" stroke-width="2"/>
<line x1="546.1" y1="292.8" x2="546.1" y2="299.3" stroke="#000" stroke-width="2"/>
<line x1="594.6" y1="292.8" x2="594.6" y2="299.3" stroke="#000" stroke-width="2"/>
<line x1="643" y1="292.8" x2="643" y2="299.3" stroke="#000" stroke-width="2"/>
<line x1="425" y1="292.8" x2="425" y2="296.3" stroke="#000" stroke-width="2"/>
<line x1="473.5" y1="292.8" x2="473.5" y2="296.3" stroke="#000" stroke-width="2"/>
<line x1="521.9" y1="292.8" x2="521.9" y2="296.3" stroke="#000" stroke-width="2"/>
<line x1="570.4" y1="292.8" x2="570.4" y2="296.3" stroke="#000" stroke-width="2"/>
<line x1="618.8" y1="292.8" x2="618.8" y2="296.3" stroke="#000" stroke-width="2"/>
<line x1="667.3" y1="292.8" x2="667.3" y2="296.3" stroke="#000" stroke-width="2"/>
<text x="394.4" y="278.2" font-size="14" text-anchor="end">0</text>
<text x="394.4" y="211.6" font-size="14" text-anchor="end">8</text>
<text x="394.4" y="145" font-size="14" text-anchor="end">16</text>
<text x="394.4" y="78.4" font-size="14" text-anchor="end">24</text>
<text x="394.4" y="11.8" font-size="14" text-anchor="end">32</text>
<text x="400.8" y="320.1" font-size="14" text-anchor="middle">0</text>
<text x="449.2" y="320.1" font-size="14" text-anchor="middle">5</text>
<text x="497.7" y="320.1" font-size="14" text-anchor="middle">10</text>
<text x="546.1" y="320.1" font-size="14" text-anchor="middle">15</text>
<text x="594.6" y="320.1" font-size="14" text-anchor="middle">20</text>
<text x="643" y="320.1" font-size="14" text-anchor="middle">25</text>
<text x="488.2" y="346.9" font-size="12" text-anchor="start" font-weight="bold" textLength="50.5" lengthAdjust="spacing">[DA] / μA</text>
<text transform="translate(370.3,163.2) rotate(-90)" font-size="11" font-weight="bold" text-anchor="middle" textLength="32.5" lengthAdjust="spacing">I / μ A</text>
<text x="557" y="38.7" font-size="14" text-anchor="start" font-weight="bold">(b)</text>
<text x="449" y="108.3" font-size="14.5" text-anchor="start" font-weight="bold">R</text>
<text x="458.9" y="96.9" font-size="9.5" text-anchor="start" font-weight="bold">2</text>
<text x="467.6" y="108.3" font-size="14.2" text-anchor="start" font-weight="bold">= 0.997</text>
<line x1="415.2" y1="292.8" x2="656.8" y2="13.1" stroke="#000" stroke-width="1.8"/>
<rect x="428.6" y="257.3" width="7.4" height="10.4"/>
<rect x="457.8" y="234.1" width="7.4" height="10.4"/>
<rect x="485.2" y="210.3" width="7.4" height="10.4"/>
<rect x="556.5" y="128" width="7.4" height="10.4"/>
<rect x="577.2" y="100.7" width="7.4" height="10.4"/>
<rect x="596.7" y="67.3" width="7.4" height="10.4"/>
<rect x="614.8" y="50.5" width="7.4" height="10.4"/>
<rect x="632.5" y="25.9" width="7.4" height="10.4"/>
<path d="M55.8,392.3 H338.5 V675.2" fill="none" stroke="#c8c8c8" stroke-width="1"/>
<line x1="55.8" y1="391.8" x2="55.8" y2="676.3" stroke="#000" stroke-width="2.2"/>
<line x1="54.7" y1="675.2" x2="338.8" y2="675.2" stroke="#000" stroke-width="2.2"/>
<line x1="50.3" y1="647.1" x2="55.8" y2="647.1" stroke="#000" stroke-width="2"/>
<line x1="50.3" y1="590.4" x2="55.8" y2="590.4" stroke="#000" stroke-width="2"/>
<line x1="50.3" y1="533.7" x2="55.8" y2="533.7" stroke="#000" stroke-width="2"/>
<line x1="50.3" y1="477" x2="55.8" y2="477" stroke="#000" stroke-width="2"/>
<line x1="50.3" y1="420.3" x2="55.8" y2="420.3" stroke="#000" stroke-width="2"/>
<line x1="52.8" y1="675.5" x2="55.8" y2="675.5" stroke="#000" stroke-width="2"/>
<line x1="52.8" y1="618.8" x2="55.8" y2="618.8" stroke="#000" stroke-width="2"/>
<line x1="52.8" y1="562.1" x2="55.8" y2="562.1" stroke="#000" stroke-width="2"/>
<line x1="52.8" y1="505.4" x2="55.8" y2="505.4" stroke="#000" stroke-width="2"/>
<line x1="52.8" y1="448.7" x2="55.8" y2="448.7" stroke="#000" stroke-width="2"/>
<line x1="52.8" y1="392" x2="55.8" y2="392" stroke="#000" stroke-width="2"/>
<line x1="55.7" y1="675.2" x2="55.7" y2="681.2" stroke="#000" stroke-width="2"/>
<line x1="102.8" y1="675.2" x2="102.8" y2="681.2" stroke="#000" stroke-width="2"/>
<line x1="150" y1="675.2" x2="150" y2="681.2" stroke="#000" stroke-width="2"/>
<line x1="197.1" y1="675.2" x2="197.1" y2="681.2" stroke="#000" stroke-width="2"/>
<line x1="244.2" y1="675.2" x2="244.2" y2="681.2" stroke="#000" stroke-width="2"/>
<line x1="291.4" y1="675.2" x2="291.4" y2="681.2" stroke="#000" stroke-width="2"/>
<line x1="338.5" y1="675.2" x2="338.5" y2="681.2" stroke="#000" stroke-width="2"/>
<line x1="79.3" y1="675.2" x2="79.3" y2="678.2" stroke="#000" stroke-width="2"/>
<line x1="126.4" y1="675.2" x2="126.4" y2="678.2" stroke="#000" stroke-width="2"/>
<line x1="173.5" y1="675.2" x2="173.5" y2="678.2" stroke="#000" stroke-width="2"/>
<line x1="220.7" y1="675.2" x2="220.7" y2="678.2" stroke="#000" stroke-width="2"/>
<line x1="267.8" y1="675.2" x2="267.8" y2="678.2" stroke="#000" stroke-width="2"/>
<line x1="314.9" y1="675.2" x2="314.9" y2="678.2" stroke="#000" stroke-width="2"/>
<text transform="translate(47,653.7) scale(0.95,1)" font-size="21.7" text-anchor="end">0</text>
<text transform="translate(49.8,597) scale(0.95,1)" font-size="21.7" text-anchor="end">10</text>
<text transform="translate(49.8,540.3) scale(0.95,1)" font-size="21.7" text-anchor="end">20</text>
<text transform="translate(49.8,483.6) scale(0.95,1)" font-size="21.7" text-anchor="end">30</text>
<text transform="translate(49.8,426.9) scale(0.95,1)" font-size="21.7" text-anchor="end">40</text>
<text transform="translate(55.7,701.5) scale(0.95,1)" font-size="21.7" text-anchor="middle">0.05</text>
<text transform="translate(102.8,701.5) scale(0.95,1)" font-size="21.7" text-anchor="middle">0.10</text>
<text transform="translate(150,701.5) scale(0.95,1)" font-size="21.7" text-anchor="middle">0.15</text>
<text transform="translate(197.1,701.5) scale(0.95,1)" font-size="21.7" text-anchor="middle">0.20</text>
<text transform="translate(244.2,701.5) scale(0.95,1)" font-size="21.7" text-anchor="middle">0.25</text>
<text transform="translate(291.4,701.5) scale(0.95,1)" font-size="21.7" text-anchor="middle">0.30</text>
<text transform="translate(338.5,701.5) scale(0.95,1)" font-size="21.7" text-anchor="middle">0.35</text>
<text x="108.3" y="727.3" font-size="15" text-anchor="start" font-weight="bold" textLength="195" lengthAdjust="spacing">E/V vs (Ag/AgCl, sat'd KCl)</text>
<text transform="translate(13.8,540.9) rotate(-90)" font-size="15" font-weight="bold" text-anchor="middle">I / μA</text>
<text x="93.2" y="433.6" font-size="20" text-anchor="start" font-weight="bold">(c)</text>
<path d="M55.5,649.5 L56.5,649.3 L57.5,649.1 L58.5,648.9 L59.5,648.7 L60.5,648.5 L61.5,648.3 L62.5,648.1 L63.5,647.9 L64.5,647.7 L65.5,647.5 L66.5,647.3 L67.5,647.1 L68.5,646.9 L69.5,646.7 L70.5,646.5 L71.5,646.3 L72.5,646 L73.5,645.8 L74.5,645.6 L75.5,645.4 L76.5,645.1 L77.5,644.9 L78.5,644.6 L79.5,644.4 L80.5,644.2 L81.5,644 L82.5,643.8 L83.5,643.6 L84.5,643.4 L85.5,643.3 L86.5,643.2 L87.5,643.1 L88.5,643 L89.5,643 L90.5,643 L91.5,643 L92.5,643 L93.5,643 L94.5,643 L95.5,643.1 L96.5,643.1 L97.5,643.2 L98.5,643.2 L99.5,643.3 L100.5,643.4 L101.5,643.4 L102.5,643.5 L103.5,643.6 L104.5,643.6 L105.5,643.7 L106.5,643.7 L107.5,643.7 L108.5,643.7 L109.5,643.8 L110.5,643.8 L111.5,643.8 L112.5,643.8 L113.5,643.8 L114.5,643.8 L115.5,643.8 L116.5,643.7 L117.5,643.7 L118.5,643.7 L119.5,643.7 L120.5,643.7 L121.5,643.6 L122.5,643.6 L123.5,643.5 L124.5,643.5 L125.5,643.4 L126.5,643.3 L127.5,643.2 L128.5,643.1 L129.5,642.9 L130.5,642.8 L131.5,642.6 L132.5,642.4 L133.5,642.2 L134.5,641.9 L135.5,641.6 L136.5,641.3 L137.5,641 L138.5,640.6 L139.5,640.1 L140.5,639.6 L141.5,639.1 L142.5,638.5 L143.5,637.9 L144.5,637.3 L145.5,636.6 L146.5,635.9 L147.5,635.2 L148.5,634.4 L149.5,633.6 L150.5,632.8 L151.5,632.1 L152.5,631.3 L153.5,630.6 L154.5,629.8 L155.5,629.1 L156.5,628.4 L157.5,627.7 L158.5,627.1 L159.5,626.5 L160.5,626 L161.5,625.5 L162.5,625 L163.5,624.6 L164.5,624.2 L165.5,623.9 L166.5,623.6 L167.5,623.4 L168.5,623.2 L169.5,623.1 L170.5,623.1 L171.5,623.1 L172.5,623.2 L173.5,623.3 L174.5,623.4 L175.5,623.6 L176.5,623.8 L177.5,624.1 L178.5,624.3 L179.5,624.6 L180.5,624.9 L181.5,625.2 L182.5,625.6 L183.5,626 L184.5,626.4 L185.5,626.8 L186.5,627.3 L187.5,627.8 L188.5,628.3 L189.5,628.9 L190.5,629.4 L191.5,629.9 L192.5,630.5 L193.5,631.1 L194.5,631.6 L195.5,632.2 L196.5,632.7 L197.5,633.3 L198.5,633.9 L199.5,634.5 L200.5,635 L201.5,635.6 L202.5,636.1 L203.5,636.5 L204.5,636.9 L205.5,637.3 L206.5,637.7 L207.5,638 L208.5,638.3 L209.5,638.6 L210.5,638.9 L211.5,639.2 L212.5,639.4 L213.5,639.7 L214.5,640 L215.5,640.3 L216.5,640.6 L217.5,640.9 L218.5,641.1 L219.5,641.4 L220.5,641.7 L221.5,642 L222.5,642.4 L223.5,642.7 L224.5,643 L225.5,643.3 L226.5,643.6 L227.5,643.9 L228.5,644.2 L229.5,644.5 L230.5,644.9 L231.5,645.2 L232.5,645.5 L233.5,645.8 L234.5,646.1 L235.5,646.3 L236.5,646.6 L237.5,646.9 L238.5,647.1 L239.5,647.3 L240.5,647.5 L241.5,647.7 L242.5,647.9 L243.5,648 L244.5,648.2 L245.5,648.3 L246.5,648.5 L247.5,648.6 L248.5,648.8 L249.5,648.9 L250.5,649 L251.5,649.2 L252.5,649.3 L253.5,649.4 L254.5,649.6 L255.5,649.7 L256.5,649.9 L257.5,650 L258.5,650.1 L259.5,650.3 L260.5,650.4 L261.5,650.5 L262.5,650.7 L263.5,650.8 L264.5,650.9 L265.5,651 L266.5,651.1 L267.5,651.3 L268.5,651.4 L269.5,651.5 L270.5,651.6 L271.5,651.7 L272.5,651.8 L273.5,651.8 L274.5,651.9 L275.5,652 L276.5,652 L277.5,652.1 L278.5,652.2 L279.5,652.2 L280.5,652.2 L281.5,652.3 L282.5,652.3 L283.5,652.3 L284.5,652.3 L285.5,652.3 L286.5,652.3 L287.5,652.3 L288.5,652.2 L289.5,652.2 L290.5,652.2 L291.5,652.1 L292.5,652.1 L293.5,652.1 L294.5,652 L295.5,652 L296.5,651.9 L297.5,651.9 L298.5,651.8 L299.5,651.8 L300.5,651.7 L301.5,651.7 L302.5,651.7 L303.5,651.6 L304.5,651.6 L305.5,651.5 L306.5,651.5 L307.5,651.5 L308.5,651.4 L309.5,651.4 L310.5,651.4 L311.5,651.4 L312.5,651.4 L313.5,651.4 L314.5,651.4 L315.5,651.4 L316.5,651.4 L317.5,651.4 L318.5,651.4 L319.5,651.4 L320.5,651.4 L321.5,651.4 L322.5,651.4 L323.5,651.5 L324.5,651.5 L325.5,651.5 L326.5,651.5 L327.5,651.5 L328.5,651.5 L329.5,651.6 L330.5,651.6 L331.5,651.6 L332.5,651.6 L333.5,651.6 L334.5,651.6 L335.5,651.7 L336.5,651.7 L337.5,651.7 L338.5,651.7" fill="none" stroke="#000000" stroke-width="2.1" stroke-linejoin="round" clip-path="url(#cc)"/>
<path d="M55.5,647.1 L56.5,646.7 L57.5,646.3 L58.5,645.9 L59.5,645.5 L60.5,645.1 L61.5,644.7 L62.5,644.3 L63.5,643.9 L64.5,643.5 L65.5,643.1 L66.5,642.7 L67.5,642.3 L68.5,642 L69.5,641.6 L70.5,641.2 L71.5,640.9 L72.5,640.5 L73.5,640.1 L74.5,639.8 L75.5,639.4 L76.5,639.1 L77.5,638.8 L78.5,638.4 L79.5,638.1 L80.5,637.9 L81.5,637.6 L82.5,637.4 L83.5,637.2 L84.5,637 L85.5,636.8 L86.5,636.7 L87.5,636.6 L88.5,636.6 L89.5,636.5 L90.5,636.5 L91.5,636.5 L92.5,636.6 L93.5,636.6 L94.5,636.7 L95.5,636.8 L96.5,636.9 L97.5,637 L98.5,637.1 L99.5,637.2 L100.5,637.3 L101.5,637.4 L102.5,637.5 L103.5,637.5 L104.5,637.6 L105.5,637.7 L106.5,637.8 L107.5,637.8 L108.5,637.9 L109.5,637.9 L110.5,638 L111.5,638 L112.5,638 L113.5,638 L114.5,638 L115.5,638 L116.5,637.9 L117.5,637.9 L118.5,637.8 L119.5,637.7 L120.5,637.6 L121.5,637.5 L122.5,637.3 L123.5,637.2 L124.5,637 L125.5,636.8 L126.5,636.5 L127.5,636.3 L128.5,636 L129.5,635.7 L130.5,635.4 L131.5,635 L132.5,634.6 L133.5,634.2 L134.5,633.7 L135.5,633.2 L136.5,632.6 L137.5,631.9 L138.5,631.2 L139.5,630.4 L140.5,629.6 L141.5,628.7 L142.5,627.7 L143.5,626.7 L144.5,625.7 L145.5,624.6 L146.5,623.5 L147.5,622.3 L148.5,621.1 L149.5,619.9 L150.5,618.6 L151.5,617.3 L152.5,616 L153.5,614.6 L154.5,613.3 L155.5,611.9 L156.5,610.6 L157.5,609.4 L158.5,608.2 L159.5,607 L160.5,606 L161.5,605 L162.5,604.1 L163.5,603.3 L164.5,602.6 L165.5,602 L166.5,601.6 L167.5,601.2 L168.5,600.9 L169.5,600.8 L170.5,600.7 L171.5,600.7 L172.5,600.8 L173.5,601 L174.5,601.3 L175.5,601.6 L176.5,602 L177.5,602.5 L178.5,603.1 L179.5,603.7 L180.5,604.4 L181.5,605.2 L182.5,606 L183.5,606.9 L184.5,607.8 L185.5,608.8 L186.5,609.8 L187.5,610.9 L188.5,611.9 L189.5,613 L190.5,614.1 L191.5,615.1 L192.5,616.2 L193.5,617.2 L194.5,618.1 L195.5,619.1 L196.5,620 L197.5,621 L198.5,621.9 L199.5,622.8 L200.5,623.7 L201.5,624.5 L202.5,625.3 L203.5,626.1 L204.5,626.9 L205.5,627.6 L206.5,628.3 L207.5,629 L208.5,629.6 L209.5,630.3 L210.5,630.9 L211.5,631.6 L212.5,632.2 L213.5,632.8 L214.5,633.4 L215.5,634 L216.5,634.5 L217.5,635.1 L218.5,635.6 L219.5,636.2 L220.5,636.7 L221.5,637.2 L222.5,637.8 L223.5,638.3 L224.5,638.8 L225.5,639.4 L226.5,639.9 L227.5,640.5 L228.5,641.1 L229.5,641.6 L230.5,642.2 L231.5,642.8 L232.5,643.4 L233.5,643.9 L234.5,644.4 L235.5,644.8 L236.5,645.3 L237.5,645.7 L238.5,646.1 L239.5,646.4 L240.5,646.8 L241.5,647.2 L242.5,647.5 L243.5,647.9 L244.5,648.2 L245.5,648.5 L246.5,648.8 L247.5,649.1 L248.5,649.4 L249.5,649.6 L250.5,649.9 L251.5,650.1 L252.5,650.3 L253.5,650.5 L254.5,650.7 L255.5,650.8 L256.5,650.9 L257.5,651.1 L258.5,651.2 L259.5,651.3 L260.5,651.4 L261.5,651.5 L262.5,651.6 L263.5,651.6 L264.5,651.7 L265.5,651.8 L266.5,651.9 L267.5,651.9 L268.5,652 L269.5,652.1 L270.5,652.1 L271.5,652.2 L272.5,652.3 L273.5,652.3 L274.5,652.4 L275.5,652.5 L276.5,652.5 L277.5,652.6 L278.5,652.6 L279.5,652.7 L280.5,652.7 L281.5,652.8 L282.5,652.9 L283.5,652.9 L284.5,653 L285.5,653 L286.5,653.1 L287.5,653.2 L288.5,653.2 L289.5,653.3 L290.5,653.3 L291.5,653.4 L292.5,653.5 L293.5,653.5 L294.5,653.6 L295.5,653.6 L296.5,653.7 L297.5,653.7 L298.5,653.8 L299.5,653.8 L300.5,653.9 L301.5,653.9 L302.5,654 L303.5,654 L304.5,654.1 L305.5,654.1 L306.5,654.1 L307.5,654.2 L308.5,654.2 L309.5,654.2 L310.5,654.3 L311.5,654.3 L312.5,654.3 L313.5,654.4 L314.5,654.4 L315.5,654.5 L316.5,654.5 L317.5,654.6 L318.5,654.6 L319.5,654.7 L320.5,654.7 L321.5,654.8 L322.5,654.9 L323.5,654.9 L324.5,655 L325.5,655 L326.5,655.1 L327.5,655.2 L328.5,655.2 L329.5,655.3 L330.5,655.3 L331.5,655.4 L332.5,655.4 L333.5,655.5 L334.5,655.5 L335.5,655.6 L336.5,655.6 L337.5,655.7 L338.5,655.7" fill="none" stroke="#ff0000" stroke-width="2.1" stroke-linejoin="round" clip-path="url(#cc)"/>
<path d="M55.5,642.5 L56.5,641.9 L57.5,641.3 L58.5,640.7 L59.5,640.1 L60.5,639.5 L61.5,638.9 L62.5,638.3 L63.5,637.7 L64.5,637.1 L65.5,636.5 L66.5,635.9 L67.5,635.3 L68.5,634.7 L69.5,634 L70.5,633.4 L71.5,632.8 L72.5,632.2 L73.5,631.6 L74.5,631 L75.5,630.4 L76.5,629.8 L77.5,629.1 L78.5,628.6 L79.5,628 L80.5,627.5 L81.5,627 L82.5,626.6 L83.5,626.2 L84.5,625.9 L85.5,625.7 L86.5,625.5 L87.5,625.5 L88.5,625.5 L89.5,625.5 L90.5,625.6 L91.5,625.8 L92.5,626 L93.5,626.3 L94.5,626.7 L95.5,627 L96.5,627.4 L97.5,627.9 L98.5,628.3 L99.5,628.7 L100.5,629.1 L101.5,629.4 L102.5,629.7 L103.5,630 L104.5,630.3 L105.5,630.5 L106.5,630.6 L107.5,630.8 L108.5,630.9 L109.5,631 L110.5,631.1 L111.5,631.1 L112.5,631.1 L113.5,631.1 L114.5,631.1 L115.5,631 L116.5,630.9 L117.5,630.8 L118.5,630.7 L119.5,630.5 L120.5,630.3 L121.5,630.1 L122.5,629.9 L123.5,629.5 L124.5,629.2 L125.5,628.8 L126.5,628.3 L127.5,627.8 L128.5,627.3 L129.5,626.7 L130.5,626 L131.5,625.3 L132.5,624.5 L133.5,623.6 L134.5,622.7 L135.5,621.7 L136.5,620.6 L137.5,619.4 L138.5,618.2 L139.5,616.8 L140.5,615.4 L141.5,614 L142.5,612.4 L143.5,610.8 L144.5,609.1 L145.5,607.4 L146.5,605.6 L147.5,603.8 L148.5,601.9 L149.5,600 L150.5,598.1 L151.5,596.2 L152.5,594.3 L153.5,592.5 L154.5,590.8 L155.5,589.1 L156.5,587.6 L157.5,586.1 L158.5,584.7 L159.5,583.5 L160.5,582.4 L161.5,581.4 L162.5,580.6 L163.5,579.8 L164.5,579.2 L165.5,578.7 L166.5,578.2 L167.5,577.9 L168.5,577.7 L169.5,577.6 L170.5,577.6 L171.5,577.6 L172.5,577.8 L173.5,578 L174.5,578.4 L175.5,578.8 L176.5,579.3 L177.5,579.9 L178.5,580.5 L179.5,581.3 L180.5,582.1 L181.5,583.1 L182.5,584.1 L183.5,585.2 L184.5,586.3 L185.5,587.5 L186.5,588.7 L187.5,590 L188.5,591.3 L189.5,592.6 L190.5,593.9 L191.5,595.2 L192.5,596.6 L193.5,597.9 L194.5,599.3 L195.5,600.6 L196.5,602 L197.5,603.4 L198.5,604.9 L199.5,606.3 L200.5,607.8 L201.5,609.2 L202.5,610.6 L203.5,612 L204.5,613.4 L205.5,614.7 L206.5,616.1 L207.5,617.4 L208.5,618.6 L209.5,619.9 L210.5,621.1 L211.5,622.2 L212.5,623.2 L213.5,624.2 L214.5,625.1 L215.5,626 L216.5,626.9 L217.5,627.7 L218.5,628.5 L219.5,629.3 L220.5,630 L221.5,630.7 L222.5,631.4 L223.5,632.1 L224.5,632.7 L225.5,633.4 L226.5,634.1 L227.5,634.8 L228.5,635.5 L229.5,636.2 L230.5,636.9 L231.5,637.6 L232.5,638.2 L233.5,638.8 L234.5,639.4 L235.5,639.9 L236.5,640.4 L237.5,640.8 L238.5,641.2 L239.5,641.7 L240.5,642.1 L241.5,642.5 L242.5,642.9 L243.5,643.3 L244.5,643.7 L245.5,644.2 L246.5,644.6 L247.5,645 L248.5,645.4 L249.5,645.9 L250.5,646.3 L251.5,646.7 L252.5,647.1 L253.5,647.5 L254.5,647.9 L255.5,648.2 L256.5,648.5 L257.5,648.8 L258.5,649 L259.5,649.2 L260.5,649.5 L261.5,649.7 L262.5,650 L263.5,650.2 L264.5,650.5 L265.5,650.8 L266.5,651.1 L267.5,651.3 L268.5,651.6 L269.5,651.9 L270.5,652.2 L271.5,652.5 L272.5,652.8 L273.5,653 L274.5,653.2 L275.5,653.4 L276.5,653.6 L277.5,653.7 L278.5,653.8 L279.5,653.9 L280.5,654 L281.5,654.1 L282.5,654.2 L283.5,654.3 L284.5,654.4 L285.5,654.5 L286.5,654.5 L287.5,654.6 L288.5,654.7 L289.5,654.7 L290.5,654.8 L291.5,654.8 L292.5,654.9 L293.5,654.9 L294.5,655 L295.5,655 L296.5,655.1 L297.5,655.1 L298.5,655.1 L299.5,655.2 L300.5,655.2 L301.5,655.2 L302.5,655.3 L303.5,655.3 L304.5,655.4 L305.5,655.4 L306.5,655.4 L307.5,655.5 L308.5,655.5 L309.5,655.5 L310.5,655.6 L311.5,655.6 L312.5,655.6 L313.5,655.7 L314.5,655.7 L315.5,655.8 L316.5,655.8 L317.5,655.8 L318.5,655.9 L319.5,655.9 L320.5,656 L321.5,656 L322.5,656.1 L323.5,656.1 L324.5,656.2 L325.5,656.2 L326.5,656.3 L327.5,656.3 L328.5,656.4 L329.5,656.5 L330.5,656.5 L331.5,656.6 L332.5,656.6 L333.5,656.7 L334.5,656.8 L335.5,656.8 L336.5,656.9 L337.5,656.9 L338.5,657" fill="none" stroke="#00ff00" stroke-width="2.1" stroke-linejoin="round" clip-path="url(#cc)"/>
<path d="M55.5,636 L56.5,635.4 L57.5,634.8 L58.5,634.1 L59.5,633.5 L60.5,632.8 L61.5,632.2 L62.5,631.5 L63.5,630.9 L64.5,630.2 L65.5,629.6 L66.5,629 L67.5,628.3 L68.5,627.7 L69.5,627.1 L70.5,626.5 L71.5,625.9 L72.5,625.3 L73.5,624.6 L74.5,624.1 L75.5,623.5 L76.5,622.9 L77.5,622.3 L78.5,621.8 L79.5,621.3 L80.5,620.8 L81.5,620.3 L82.5,620 L83.5,619.6 L84.5,619.4 L85.5,619.2 L86.5,619 L87.5,618.9 L88.5,618.9 L89.5,619 L90.5,619.1 L91.5,619.2 L92.5,619.4 L93.5,619.6 L94.5,619.9 L95.5,620.1 L96.5,620.4 L97.5,620.7 L98.5,621 L99.5,621.4 L100.5,621.7 L101.5,622 L102.5,622.2 L103.5,622.5 L104.5,622.7 L105.5,623 L106.5,623.2 L107.5,623.4 L108.5,623.5 L109.5,623.6 L110.5,623.7 L111.5,623.8 L112.5,623.8 L113.5,623.8 L114.5,623.7 L115.5,623.6 L116.5,623.4 L117.5,623.2 L118.5,622.9 L119.5,622.6 L120.5,622.2 L121.5,621.8 L122.5,621.4 L123.5,620.9 L124.5,620.3 L125.5,619.7 L126.5,619 L127.5,618.2 L128.5,617.5 L129.5,616.6 L130.5,615.7 L131.5,614.8 L132.5,613.8 L133.5,612.7 L134.5,611.6 L135.5,610.4 L136.5,609.1 L137.5,607.8 L138.5,606.5 L139.5,605 L140.5,603.5 L141.5,602 L142.5,600.3 L143.5,598.6 L144.5,596.8 L145.5,594.9 L146.5,593 L147.5,591 L148.5,589 L149.5,586.9 L150.5,584.7 L151.5,582.6 L152.5,580.4 L153.5,578.3 L154.5,576.2 L155.5,574.2 L156.5,572.3 L157.5,570.5 L158.5,568.9 L159.5,567.4 L160.5,566 L161.5,564.9 L162.5,563.8 L163.5,563 L164.5,562.2 L165.5,561.6 L166.5,561.1 L167.5,560.8 L168.5,560.6 L169.5,560.4 L170.5,560.4 L171.5,560.5 L172.5,560.7 L173.5,560.9 L174.5,561.3 L175.5,561.7 L176.5,562.3 L177.5,563 L178.5,563.7 L179.5,564.6 L180.5,565.5 L181.5,566.6 L182.5,567.8 L183.5,569.1 L184.5,570.5 L185.5,572 L186.5,573.5 L187.5,575.1 L188.5,576.7 L189.5,578.3 L190.5,579.9 L191.5,581.5 L192.5,583.2 L193.5,584.8 L194.5,586.5 L195.5,588.1 L196.5,589.8 L197.5,591.4 L198.5,593.1 L199.5,594.7 L200.5,596.4 L201.5,598 L202.5,599.6 L203.5,601.3 L204.5,602.9 L205.5,604.5 L206.5,606.1 L207.5,607.7 L208.5,609.2 L209.5,610.7 L210.5,612.1 L211.5,613.5 L212.5,614.8 L213.5,616.1 L214.5,617.3 L215.5,618.5 L216.5,619.6 L217.5,620.6 L218.5,621.6 L219.5,622.5 L220.5,623.4 L221.5,624.2 L222.5,625 L223.5,625.8 L224.5,626.5 L225.5,627.2 L226.5,628 L227.5,628.7 L228.5,629.6 L229.5,630.4 L230.5,631.2 L231.5,632.1 L232.5,632.9 L233.5,633.6 L234.5,634.3 L235.5,635 L236.5,635.5 L237.5,636.1 L238.5,636.6 L239.5,637.2 L240.5,637.7 L241.5,638.3 L242.5,638.8 L243.5,639.4 L244.5,639.9 L245.5,640.4 L246.5,640.9 L247.5,641.4 L248.5,641.9 L249.5,642.3 L250.5,642.8 L251.5,643.3 L252.5,643.8 L253.5,644.3 L254.5,644.7 L255.5,645.1 L256.5,645.4 L257.5,645.6 L258.5,645.9 L259.5,646.1 L260.5,646.3 L261.5,646.5 L262.5,646.7 L263.5,647 L264.5,647.2 L265.5,647.5 L266.5,647.7 L267.5,648 L268.5,648.3 L269.5,648.6 L270.5,648.9 L271.5,649.2 L272.5,649.5 L273.5,649.8 L274.5,650.1 L275.5,650.5 L276.5,650.8 L277.5,651.1 L278.5,651.4 L279.5,651.7 L280.5,652 L281.5,652.3 L282.5,652.6 L283.5,652.8 L284.5,653.1 L285.5,653.3 L286.5,653.5 L287.5,653.7 L288.5,653.9 L289.5,654.1 L290.5,654.3 L291.5,654.5 L292.5,654.7 L293.5,654.8 L294.5,655 L295.5,655.1 L296.5,655.3 L297.5,655.4 L298.5,655.6 L299.5,655.7 L300.5,655.9 L301.5,656 L302.5,656.2 L303.5,656.3 L304.5,656.4 L305.5,656.5 L306.5,656.6 L307.5,656.7 L308.5,656.8 L309.5,656.9 L310.5,656.9 L311.5,657 L312.5,657 L313.5,657.1 L314.5,657.1 L315.5,657.2 L316.5,657.2 L317.5,657.2 L318.5,657.3 L319.5,657.3 L320.5,657.3 L321.5,657.4 L322.5,657.4 L323.5,657.5 L324.5,657.5 L325.5,657.6 L326.5,657.6 L327.5,657.7 L328.5,657.8 L329.5,657.8 L330.5,657.9 L331.5,658 L332.5,658 L333.5,658.1 L334.5,658.2 L335.5,658.3 L336.5,658.3 L337.5,658.4 L338.5,658.5" fill="none" stroke="#0000ff" stroke-width="2.1" stroke-linejoin="round" clip-path="url(#cc)"/>
<path d="M55.5,632.8 L56.5,632.2 L57.5,631.6 L58.5,631 L59.5,630.4 L60.5,629.7 L61.5,629.1 L62.5,628.5 L63.5,627.9 L64.5,627.3 L65.5,626.7 L66.5,626.1 L67.5,625.5 L68.5,624.9 L69.5,624.3 L70.5,623.7 L71.5,623.1 L72.5,622.5 L73.5,621.9 L74.5,621.4 L75.5,620.8 L76.5,620.2 L77.5,619.7 L78.5,619.1 L79.5,618.6 L80.5,618.1 L81.5,617.7 L82.5,617.3 L83.5,617 L84.5,616.7 L85.5,616.4 L86.5,616.3 L87.5,616.1 L88.5,616.1 L89.5,616.1 L90.5,616.1 L91.5,616.2 L92.5,616.2 L93.5,616.4 L94.5,616.5 L95.5,616.7 L96.5,616.8 L97.5,617 L98.5,617.2 L99.5,617.4 L100.5,617.6 L101.5,617.8 L102.5,618 L103.5,618.2 L104.5,618.3 L105.5,618.5 L106.5,618.6 L107.5,618.8 L108.5,618.9 L109.5,618.9 L110.5,619 L111.5,619 L112.5,619 L113.5,618.9 L114.5,618.8 L115.5,618.7 L116.5,618.5 L117.5,618.3 L118.5,618 L119.5,617.7 L120.5,617.3 L121.5,616.9 L122.5,616.4 L123.5,615.8 L124.5,615.2 L125.5,614.5 L126.5,613.8 L127.5,613 L128.5,612.2 L129.5,611.3 L130.5,610.3 L131.5,609.3 L132.5,608.2 L133.5,607 L134.5,605.9 L135.5,604.6 L136.5,603.3 L137.5,602 L138.5,600.5 L139.5,599 L140.5,597.4 L141.5,595.8 L142.5,594 L143.5,592.2 L144.5,590.2 L145.5,588.2 L146.5,586 L147.5,583.7 L148.5,581.2 L149.5,578.7 L150.5,576 L151.5,573.3 L152.5,570.6 L153.5,567.9 L154.5,565.3 L155.5,562.8 L156.5,560.4 L157.5,558.2 L158.5,556.1 L159.5,554.3 L160.5,552.6 L161.5,551.2 L162.5,550 L163.5,548.9 L164.5,548 L165.5,547.2 L166.5,546.6 L167.5,546.2 L168.5,545.8 L169.5,545.6 L170.5,545.5 L171.5,545.5 L172.5,545.6 L173.5,545.7 L174.5,546 L175.5,546.4 L176.5,546.9 L177.5,547.5 L178.5,548.2 L179.5,549 L180.5,550 L181.5,551.1 L182.5,552.3 L183.5,553.7 L184.5,555.2 L185.5,556.8 L186.5,558.6 L187.5,560.5 L188.5,562.4 L189.5,564.5 L190.5,566.6 L191.5,568.7 L192.5,570.8 L193.5,572.9 L194.5,575 L195.5,577.1 L196.5,579.2 L197.5,581.2 L198.5,583.2 L199.5,585.2 L200.5,587.1 L201.5,589.1 L202.5,591 L203.5,592.9 L204.5,594.7 L205.5,596.6 L206.5,598.4 L207.5,600.2 L208.5,601.9 L209.5,603.5 L210.5,605.1 L211.5,606.7 L212.5,608.2 L213.5,609.6 L214.5,611 L215.5,612.3 L216.5,613.5 L217.5,614.8 L218.5,615.9 L219.5,617.1 L220.5,618.2 L221.5,619.3 L222.5,620.3 L223.5,621.4 L224.5,622.4 L225.5,623.5 L226.5,624.5 L227.5,625.4 L228.5,626.4 L229.5,627.4 L230.5,628.3 L231.5,629.2 L232.5,630 L233.5,630.9 L234.5,631.6 L235.5,632.4 L236.5,633.1 L237.5,633.7 L238.5,634.3 L239.5,634.9 L240.5,635.4 L241.5,636 L242.5,636.5 L243.5,637 L244.5,637.5 L245.5,638 L246.5,638.6 L247.5,639.1 L248.5,639.6 L249.5,640.1 L250.5,640.6 L251.5,641.1 L252.5,641.6 L253.5,642.1 L254.5,642.5 L255.5,642.9 L256.5,643.3 L257.5,643.7 L258.5,644 L259.5,644.3 L260.5,644.7 L261.5,645 L262.5,645.3 L263.5,645.7 L264.5,646 L265.5,646.4 L266.5,646.8 L267.5,647.1 L268.5,647.5 L269.5,647.8 L270.5,648.2 L271.5,648.6 L272.5,649 L273.5,649.3 L274.5,649.7 L275.5,650 L276.5,650.4 L277.5,650.8 L278.5,651.1 L279.5,651.5 L280.5,651.8 L281.5,652.1 L282.5,652.4 L283.5,652.8 L284.5,653.1 L285.5,653.4 L286.5,653.7 L287.5,654 L288.5,654.3 L289.5,654.6 L290.5,654.9 L291.5,655.2 L292.5,655.5 L293.5,655.9 L294.5,656.2 L295.5,656.5 L296.5,656.8 L297.5,657.1 L298.5,657.4 L299.5,657.7 L300.5,658 L301.5,658.3 L302.5,658.5 L303.5,658.8 L304.5,659 L305.5,659.2 L306.5,659.4 L307.5,659.5 L308.5,659.6 L309.5,659.7 L310.5,659.8 L311.5,659.9 L312.5,659.9 L313.5,660 L314.5,660 L315.5,660 L316.5,660 L317.5,660.1 L318.5,660.1 L319.5,660.1 L320.5,660.1 L321.5,660.1 L322.5,660.1 L323.5,660.1 L324.5,660.1 L325.5,660.2 L326.5,660.2 L327.5,660.2 L328.5,660.2 L329.5,660.3 L330.5,660.3 L331.5,660.3 L332.5,660.3 L333.5,660.4 L334.5,660.4 L335.5,660.4 L336.5,660.4 L337.5,660.5 L338.5,660.5" fill="none" stroke="#00ffff" stroke-width="2.1" stroke-linejoin="round" clip-path="url(#cc)"/>
<path d="M55.5,627.3 L56.5,626.8 L57.5,626.3 L58.5,625.8 L59.5,625.2 L60.5,624.7 L61.5,624.2 L62.5,623.6 L63.5,623.1 L64.5,622.5 L65.5,622 L66.5,621.4 L67.5,620.8 L68.5,620.2 L69.5,619.6 L70.5,619 L71.5,618.3 L72.5,617.6 L73.5,616.9 L74.5,616.2 L75.5,615.5 L76.5,614.7 L77.5,614 L78.5,613.2 L79.5,612.5 L80.5,611.8 L81.5,611.1 L82.5,610.5 L83.5,610 L84.5,609.5 L85.5,609.1 L86.5,608.8 L87.5,608.6 L88.5,608.5 L89.5,608.4 L90.5,608.4 L91.5,608.5 L92.5,608.6 L93.5,608.7 L94.5,608.8 L95.5,609 L96.5,609.1 L97.5,609.3 L98.5,609.5 L99.5,609.7 L100.5,609.9 L101.5,610.1 L102.5,610.2 L103.5,610.4 L104.5,610.5 L105.5,610.5 L106.5,610.6 L107.5,610.6 L108.5,610.5 L109.5,610.5 L110.5,610.4 L111.5,610.2 L112.5,610 L113.5,609.8 L114.5,609.5 L115.5,609.2 L116.5,608.9 L117.5,608.5 L118.5,608.1 L119.5,607.6 L120.5,607.1 L121.5,606.5 L122.5,605.9 L123.5,605.2 L124.5,604.4 L125.5,603.7 L126.5,602.8 L127.5,601.9 L128.5,600.9 L129.5,599.9 L130.5,598.8 L131.5,597.7 L132.5,596.4 L133.5,595.1 L134.5,593.7 L135.5,592.3 L136.5,590.7 L137.5,589.1 L138.5,587.4 L139.5,585.5 L140.5,583.6 L141.5,581.5 L142.5,579.4 L143.5,577.1 L144.5,574.6 L145.5,572.1 L146.5,569.4 L147.5,566.5 L148.5,563.6 L149.5,560.6 L150.5,557.5 L151.5,554.4 L152.5,551.4 L153.5,548.4 L154.5,545.6 L155.5,542.9 L156.5,540.3 L157.5,538 L158.5,535.9 L159.5,534 L160.5,532.3 L161.5,530.8 L162.5,529.5 L163.5,528.3 L164.5,527.3 L165.5,526.5 L166.5,525.7 L167.5,525.1 L168.5,524.7 L169.5,524.3 L170.5,524.1 L171.5,524 L172.5,524 L173.5,524.1 L174.5,524.4 L175.5,524.8 L176.5,525.3 L177.5,525.9 L178.5,526.7 L179.5,527.5 L180.5,528.6 L181.5,529.7 L182.5,531.1 L183.5,532.6 L184.5,534.2 L185.5,535.9 L186.5,537.8 L187.5,539.7 L188.5,541.8 L189.5,543.9 L190.5,546 L191.5,548.3 L192.5,550.6 L193.5,553 L194.5,555.5 L195.5,557.9 L196.5,560.4 L197.5,562.9 L198.5,565.3 L199.5,567.8 L200.5,570.2 L201.5,572.6 L202.5,574.9 L203.5,577.1 L204.5,579.3 L205.5,581.4 L206.5,583.6 L207.5,585.7 L208.5,587.7 L209.5,589.7 L210.5,591.7 L211.5,593.6 L212.5,595.4 L213.5,597.2 L214.5,598.9 L215.5,600.6 L216.5,602.2 L217.5,603.7 L218.5,605.2 L219.5,606.6 L220.5,608 L221.5,609.4 L222.5,610.7 L223.5,612 L224.5,613.2 L225.5,614.3 L226.5,615.5 L227.5,616.5 L228.5,617.6 L229.5,618.6 L230.5,619.6 L231.5,620.6 L232.5,621.6 L233.5,622.5 L234.5,623.4 L235.5,624.3 L236.5,625.1 L237.5,626 L238.5,626.7 L239.5,627.5 L240.5,628.3 L241.5,629 L242.5,629.7 L243.5,630.4 L244.5,631 L245.5,631.7 L246.5,632.4 L247.5,633 L248.5,633.7 L249.5,634.4 L250.5,635.1 L251.5,635.8 L252.5,636.5 L253.5,637.2 L254.5,637.9 L255.5,638.6 L256.5,639.3 L257.5,639.9 L258.5,640.5 L259.5,641.1 L260.5,641.6 L261.5,642.1 L262.5,642.7 L263.5,643.2 L264.5,643.7 L265.5,644.2 L266.5,644.6 L267.5,645.1 L268.5,645.6 L269.5,646 L270.5,646.4 L271.5,646.8 L272.5,647.2 L273.5,647.6 L274.5,648 L275.5,648.4 L276.5,648.8 L277.5,649.2 L278.5,649.5 L279.5,649.9 L280.5,650.3 L281.5,650.6 L282.5,651 L283.5,651.3 L284.5,651.7 L285.5,652 L286.5,652.4 L287.5,652.7 L288.5,653 L289.5,653.3 L290.5,653.7 L291.5,654 L292.5,654.3 L293.5,654.6 L294.5,654.8 L295.5,655.1 L296.5,655.4 L297.5,655.7 L298.5,655.9 L299.5,656.2 L300.5,656.4 L301.5,656.7 L302.5,656.9 L303.5,657.1 L304.5,657.4 L305.5,657.6 L306.5,657.8 L307.5,658 L308.5,658.2 L309.5,658.4 L310.5,658.6 L311.5,658.8 L312.5,658.9 L313.5,659.1 L314.5,659.3 L315.5,659.4 L316.5,659.6 L317.5,659.8 L318.5,659.9 L319.5,660 L320.5,660.2 L321.5,660.3 L322.5,660.4 L323.5,660.6 L324.5,660.7 L325.5,660.8 L326.5,660.9 L327.5,661 L328.5,661.1 L329.5,661.2 L330.5,661.3 L331.5,661.4 L332.5,661.5 L333.5,661.6 L334.5,661.7 L335.5,661.8 L336.5,661.9 L337.5,662 L338.5,662.1" fill="none" stroke="#ff00ff" stroke-width="2.1" stroke-linejoin="round" clip-path="url(#cc)"/>
<path d="M55.5,625.3 L56.5,624.7 L57.5,624 L58.5,623.4 L59.5,622.8 L60.5,622.1 L61.5,621.5 L62.5,620.8 L63.5,620.2 L64.5,619.5 L65.5,618.9 L66.5,618.2 L67.5,617.5 L68.5,616.9 L69.5,616.2 L70.5,615.5 L71.5,614.8 L72.5,614 L73.5,613.3 L74.5,612.6 L75.5,611.8 L76.5,611 L77.5,610.2 L78.5,609.5 L79.5,608.7 L80.5,608 L81.5,607.3 L82.5,606.7 L83.5,606.1 L84.5,605.6 L85.5,605.2 L86.5,604.9 L87.5,604.6 L88.5,604.4 L89.5,604.3 L90.5,604.2 L91.5,604.1 L92.5,604.2 L93.5,604.2 L94.5,604.3 L95.5,604.4 L96.5,604.5 L97.5,604.7 L98.5,604.8 L99.5,605 L100.5,605.1 L101.5,605.2 L102.5,605.3 L103.5,605.4 L104.5,605.4 L105.5,605.4 L106.5,605.4 L107.5,605.3 L108.5,605.2 L109.5,605.1 L110.5,604.9 L111.5,604.7 L112.5,604.5 L113.5,604.2 L114.5,603.8 L115.5,603.4 L116.5,603 L117.5,602.5 L118.5,601.9 L119.5,601.3 L120.5,600.6 L121.5,599.9 L122.5,599.1 L123.5,598.3 L124.5,597.4 L125.5,596.4 L126.5,595.4 L127.5,594.3 L128.5,593.1 L129.5,591.9 L130.5,590.6 L131.5,589.3 L132.5,587.8 L133.5,586.3 L134.5,584.8 L135.5,583.1 L136.5,581.2 L137.5,579.3 L138.5,577.2 L139.5,574.9 L140.5,572.5 L141.5,569.9 L142.5,567.1 L143.5,564.2 L144.5,561 L145.5,557.7 L146.5,554.2 L147.5,550.7 L148.5,547.2 L149.5,543.7 L150.5,540.3 L151.5,537 L152.5,533.7 L153.5,530.5 L154.5,527.5 L155.5,524.5 L156.5,521.8 L157.5,519.2 L158.5,516.8 L159.5,514.6 L160.5,512.6 L161.5,510.9 L162.5,509.3 L163.5,507.9 L164.5,506.7 L165.5,505.6 L166.5,504.7 L167.5,503.8 L168.5,503.1 L169.5,502.6 L170.5,502.1 L171.5,501.9 L172.5,501.7 L173.5,501.8 L174.5,502 L175.5,502.4 L176.5,503 L177.5,503.8 L178.5,504.7 L179.5,505.8 L180.5,507.2 L181.5,508.6 L182.5,510.3 L183.5,512.1 L184.5,514 L185.5,516 L186.5,518.1 L187.5,520.3 L188.5,522.6 L189.5,524.9 L190.5,527.3 L191.5,529.7 L192.5,532.1 L193.5,534.6 L194.5,537.1 L195.5,539.6 L196.5,542.1 L197.5,544.6 L198.5,547.1 L199.5,549.6 L200.5,552.1 L201.5,554.6 L202.5,557.2 L203.5,559.7 L204.5,562.2 L205.5,564.7 L206.5,567.3 L207.5,569.8 L208.5,572.3 L209.5,574.7 L210.5,577.1 L211.5,579.5 L212.5,581.8 L213.5,584 L214.5,586.2 L215.5,588.3 L216.5,590.3 L217.5,592.3 L218.5,594.2 L219.5,596.1 L220.5,597.8 L221.5,599.5 L222.5,601.1 L223.5,602.6 L224.5,604.1 L225.5,605.4 L226.5,606.7 L227.5,608 L228.5,609.2 L229.5,610.3 L230.5,611.4 L231.5,612.5 L232.5,613.6 L233.5,614.6 L234.5,615.7 L235.5,616.7 L236.5,617.8 L237.5,618.8 L238.5,619.8 L239.5,620.8 L240.5,621.8 L241.5,622.7 L242.5,623.6 L243.5,624.5 L244.5,625.3 L245.5,626.1 L246.5,626.9 L247.5,627.7 L248.5,628.5 L249.5,629.3 L250.5,630.1 L251.5,630.9 L252.5,631.6 L253.5,632.4 L254.5,633.2 L255.5,634 L256.5,634.7 L257.5,635.4 L258.5,636.1 L259.5,636.8 L260.5,637.4 L261.5,638.1 L262.5,638.7 L263.5,639.3 L264.5,639.9 L265.5,640.5 L266.5,641.1 L267.5,641.6 L268.5,642.2 L269.5,642.7 L270.5,643.2 L271.5,643.7 L272.5,644.3 L273.5,644.8 L274.5,645.3 L275.5,645.8 L276.5,646.2 L277.5,646.7 L278.5,647.2 L279.5,647.7 L280.5,648.2 L281.5,648.7 L282.5,649.1 L283.5,649.6 L284.5,650.1 L285.5,650.5 L286.5,651 L287.5,651.4 L288.5,651.9 L289.5,652.4 L290.5,652.9 L291.5,653.3 L292.5,653.8 L293.5,654.3 L294.5,654.8 L295.5,655.2 L296.5,655.7 L297.5,656.1 L298.5,656.5 L299.5,656.9 L300.5,657.2 L301.5,657.6 L302.5,657.9 L303.5,658.1 L304.5,658.4 L305.5,658.6 L306.5,658.9 L307.5,659.1 L308.5,659.3 L309.5,659.5 L310.5,659.7 L311.5,659.9 L312.5,660 L313.5,660.2 L314.5,660.4 L315.5,660.5 L316.5,660.7 L317.5,660.9 L318.5,661 L319.5,661.2 L320.5,661.3 L321.5,661.4 L322.5,661.6 L323.5,661.7 L324.5,661.9 L325.5,662 L326.5,662.1 L327.5,662.2 L328.5,662.4 L329.5,662.5 L330.5,662.6 L331.5,662.7 L332.5,662.8 L333.5,662.9 L334.5,663.1 L335.5,663.2 L336.5,663.3 L337.5,663.4 L338.5,663.5" fill="none" stroke="#ffff00" stroke-width="2.1" stroke-linejoin="round" clip-path="url(#cc)"/>
<path d="M55.5,619.4 L56.5,618.7 L57.5,618 L58.5,617.3 L59.5,616.6 L60.5,615.9 L61.5,615.2 L62.5,614.5 L63.5,613.8 L64.5,613.1 L65.5,612.3 L66.5,611.6 L67.5,610.9 L68.5,610.2 L69.5,609.4 L70.5,608.7 L71.5,607.9 L72.5,607.2 L73.5,606.4 L74.5,605.6 L75.5,604.8 L76.5,604 L77.5,603.3 L78.5,602.5 L79.5,601.7 L80.5,601 L81.5,600.3 L82.5,599.7 L83.5,599.1 L84.5,598.5 L85.5,598.1 L86.5,597.7 L87.5,597.4 L88.5,597.1 L89.5,596.9 L90.5,596.8 L91.5,596.6 L92.5,596.6 L93.5,596.5 L94.5,596.5 L95.5,596.4 L96.5,596.4 L97.5,596.4 L98.5,596.4 L99.5,596.4 L100.5,596.4 L101.5,596.4 L102.5,596.4 L103.5,596.3 L104.5,596.2 L105.5,596 L106.5,595.8 L107.5,595.5 L108.5,595.2 L109.5,594.8 L110.5,594.4 L111.5,593.9 L112.5,593.4 L113.5,592.8 L114.5,592.1 L115.5,591.4 L116.5,590.6 L117.5,589.7 L118.5,588.8 L119.5,587.8 L120.5,586.7 L121.5,585.6 L122.5,584.4 L123.5,583.1 L124.5,581.8 L125.5,580.5 L126.5,579.1 L127.5,577.6 L128.5,576.1 L129.5,574.5 L130.5,572.9 L131.5,571.2 L132.5,569.4 L133.5,567.5 L134.5,565.4 L135.5,563.3 L136.5,561 L137.5,558.5 L138.5,555.9 L139.5,553.1 L140.5,550.2 L141.5,547.1 L142.5,543.9 L143.5,540.6 L144.5,537.4 L145.5,534.1 L146.5,530.8 L147.5,527.5 L148.5,524.2 L149.5,520.8 L150.5,517.6 L151.5,514.3 L152.5,511.1 L153.5,508 L154.5,505 L155.5,502.1 L156.5,499.3 L157.5,496.7 L158.5,494.2 L159.5,491.9 L160.5,489.8 L161.5,487.8 L162.5,485.9 L163.5,484.2 L164.5,482.5 L165.5,481 L166.5,479.6 L167.5,478.4 L168.5,477.5 L169.5,476.7 L170.5,476.2 L171.5,476 L172.5,475.9 L173.5,476 L174.5,476.4 L175.5,476.8 L176.5,477.5 L177.5,478.3 L178.5,479.3 L179.5,480.5 L180.5,481.8 L181.5,483.3 L182.5,484.9 L183.5,486.7 L184.5,488.6 L185.5,490.6 L186.5,492.6 L187.5,494.8 L188.5,497.1 L189.5,499.4 L190.5,501.8 L191.5,504.3 L192.5,506.8 L193.5,509.4 L194.5,512.1 L195.5,514.9 L196.5,517.7 L197.5,520.7 L198.5,523.8 L199.5,526.9 L200.5,530.1 L201.5,533.3 L202.5,536.5 L203.5,539.8 L204.5,543 L205.5,546.1 L206.5,549.2 L207.5,552.3 L208.5,555.3 L209.5,558.2 L210.5,561.1 L211.5,563.9 L212.5,566.6 L213.5,569.3 L214.5,571.9 L215.5,574.3 L216.5,576.8 L217.5,579.1 L218.5,581.3 L219.5,583.4 L220.5,585.3 L221.5,587.2 L222.5,588.9 L223.5,590.6 L224.5,592.1 L225.5,593.6 L226.5,595.1 L227.5,596.5 L228.5,597.9 L229.5,599.2 L230.5,600.6 L231.5,601.9 L232.5,603.1 L233.5,604.4 L234.5,605.6 L235.5,606.8 L236.5,607.9 L237.5,609.1 L238.5,610.2 L239.5,611.3 L240.5,612.4 L241.5,613.5 L242.5,614.5 L243.5,615.6 L244.5,616.7 L245.5,617.8 L246.5,618.9 L247.5,620 L248.5,621.1 L249.5,622.2 L250.5,623.2 L251.5,624.3 L252.5,625.4 L253.5,626.4 L254.5,627.3 L255.5,628.1 L256.5,628.9 L257.5,629.6 L258.5,630.3 L259.5,630.9 L260.5,631.5 L261.5,632.1 L262.5,632.8 L263.5,633.4 L264.5,634 L265.5,634.7 L266.5,635.3 L267.5,636 L268.5,636.6 L269.5,637.3 L270.5,638 L271.5,638.7 L272.5,639.4 L273.5,640.1 L274.5,640.8 L275.5,641.5 L276.5,642.1 L277.5,642.8 L278.5,643.4 L279.5,644 L280.5,644.6 L281.5,645.2 L282.5,645.7 L283.5,646.3 L284.5,646.8 L285.5,647.3 L286.5,647.8 L287.5,648.3 L288.5,648.8 L289.5,649.3 L290.5,649.7 L291.5,650.2 L292.5,650.6 L293.5,651 L294.5,651.4 L295.5,651.8 L296.5,652.2 L297.5,652.6 L298.5,653 L299.5,653.3 L300.5,653.6 L301.5,654 L302.5,654.3 L303.5,654.6 L304.5,654.8 L305.5,655.1 L306.5,655.3 L307.5,655.5 L308.5,655.7 L309.5,655.9 L310.5,656.1 L311.5,656.3 L312.5,656.4 L313.5,656.6 L314.5,656.7 L315.5,656.8 L316.5,656.9 L317.5,657 L318.5,657 L319.5,657.1 L320.5,657.1 L321.5,657.2 L322.5,657.2 L323.5,657.3 L324.5,657.3 L325.5,657.3 L326.5,657.3 L327.5,657.3 L328.5,657.3 L329.5,657.3 L330.5,657.3 L331.5,657.2 L332.5,657.2 L333.5,657.2 L334.5,657.2 L335.5,657.1 L336.5,657.1 L337.5,657.1 L338.5,657" fill="none" stroke="#808000" stroke-width="2.1" stroke-linejoin="round" clip-path="url(#cc)"/>
<path d="M55.5,615.7 L56.5,615 L57.5,614.2 L58.5,613.5 L59.5,612.8 L60.5,612.1 L61.5,611.3 L62.5,610.6 L63.5,609.9 L64.5,609.2 L65.5,608.4 L66.5,607.7 L67.5,607 L68.5,606.3 L69.5,605.6 L70.5,604.8 L71.5,604.1 L72.5,603.4 L73.5,602.7 L74.5,602 L75.5,601.3 L76.5,600.6 L77.5,599.9 L78.5,599.2 L79.5,598.5 L80.5,597.8 L81.5,597.2 L82.5,596.6 L83.5,596.1 L84.5,595.5 L85.5,595.1 L86.5,594.6 L87.5,594.3 L88.5,593.9 L89.5,593.6 L90.5,593.3 L91.5,593 L92.5,592.8 L93.5,592.6 L94.5,592.4 L95.5,592.2 L96.5,592.1 L97.5,591.9 L98.5,591.8 L99.5,591.6 L100.5,591.5 L101.5,591.3 L102.5,591.1 L103.5,590.9 L104.5,590.6 L105.5,590.3 L106.5,589.9 L107.5,589.5 L108.5,589 L109.5,588.4 L110.5,587.7 L111.5,587 L112.5,586.2 L113.5,585.3 L114.5,584.3 L115.5,583.3 L116.5,582.2 L117.5,581 L118.5,579.7 L119.5,578.4 L120.5,577 L121.5,575.5 L122.5,574 L123.5,572.4 L124.5,570.8 L125.5,569.1 L126.5,567.3 L127.5,565.4 L128.5,563.5 L129.5,561.5 L130.5,559.4 L131.5,557.2 L132.5,554.8 L133.5,552.4 L134.5,549.8 L135.5,547.1 L136.5,544.3 L137.5,541.5 L138.5,538.5 L139.5,535.4 L140.5,532.3 L141.5,529 L142.5,525.7 L143.5,522.4 L144.5,518.9 L145.5,515.5 L146.5,512 L147.5,508.4 L148.5,504.9 L149.5,501.3 L150.5,497.8 L151.5,494.4 L152.5,491 L153.5,487.7 L154.5,484.4 L155.5,481.3 L156.5,478.3 L157.5,475.4 L158.5,472.6 L159.5,470 L160.5,467.5 L161.5,465.1 L162.5,462.9 L163.5,460.9 L164.5,459 L165.5,457.4 L166.5,456 L167.5,454.9 L168.5,454.1 L169.5,453.4 L170.5,453 L171.5,452.8 L172.5,452.7 L173.5,452.8 L174.5,453.1 L175.5,453.5 L176.5,454 L177.5,454.8 L178.5,455.7 L179.5,456.9 L180.5,458.3 L181.5,459.8 L182.5,461.5 L183.5,463.4 L184.5,465.4 L185.5,467.6 L186.5,469.8 L187.5,472.2 L188.5,474.6 L189.5,477.1 L190.5,479.7 L191.5,482.3 L192.5,484.9 L193.5,487.6 L194.5,490.4 L195.5,493.3 L196.5,496.3 L197.5,499.3 L198.5,502.4 L199.5,505.7 L200.5,509 L201.5,512.4 L202.5,515.9 L203.5,519.5 L204.5,523.1 L205.5,526.6 L206.5,530.2 L207.5,533.7 L208.5,537.1 L209.5,540.6 L210.5,543.9 L211.5,547.2 L212.5,550.4 L213.5,553.6 L214.5,556.6 L215.5,559.5 L216.5,562.3 L217.5,565 L218.5,567.6 L219.5,570.1 L220.5,572.5 L221.5,574.8 L222.5,577 L223.5,579.1 L224.5,581.2 L225.5,583.3 L226.5,585.2 L227.5,587.2 L228.5,589.1 L229.5,590.9 L230.5,592.7 L231.5,594.4 L232.5,596.1 L233.5,597.7 L234.5,599.2 L235.5,600.7 L236.5,602.2 L237.5,603.6 L238.5,604.9 L239.5,606.2 L240.5,607.5 L241.5,608.8 L242.5,610 L243.5,611.2 L244.5,612.4 L245.5,613.6 L246.5,614.8 L247.5,615.9 L248.5,617.1 L249.5,618.3 L250.5,619.5 L251.5,620.6 L252.5,621.7 L253.5,622.9 L254.5,624 L255.5,625 L256.5,626 L257.5,627 L258.5,627.9 L259.5,628.8 L260.5,629.7 L261.5,630.5 L262.5,631.2 L263.5,632 L264.5,632.7 L265.5,633.4 L266.5,634.1 L267.5,634.8 L268.5,635.4 L269.5,636.1 L270.5,636.7 L271.5,637.3 L272.5,638 L273.5,638.6 L274.5,639.2 L275.5,639.9 L276.5,640.5 L277.5,641.2 L278.5,641.9 L279.5,642.6 L280.5,643.3 L281.5,644.1 L282.5,644.8 L283.5,645.5 L284.5,646.2 L285.5,646.9 L286.5,647.6 L287.5,648.3 L288.5,648.9 L289.5,649.5 L290.5,650 L291.5,650.5 L292.5,651 L293.5,651.4 L294.5,651.8 L295.5,652.2 L296.5,652.6 L297.5,653 L298.5,653.4 L299.5,653.8 L300.5,654.2 L301.5,654.6 L302.5,655 L303.5,655.4 L304.5,655.7 L305.5,656.1 L306.5,656.5 L307.5,656.8 L308.5,657.2 L309.5,657.5 L310.5,657.8 L311.5,658.1 L312.5,658.4 L313.5,658.7 L314.5,659 L315.5,659.3 L316.5,659.6 L317.5,659.9 L318.5,660.1 L319.5,660.4 L320.5,660.6 L321.5,660.9 L322.5,661.1 L323.5,661.3 L324.5,661.6 L325.5,661.8 L326.5,662 L327.5,662.2 L328.5,662.5 L329.5,662.7 L330.5,662.9 L331.5,663.1 L332.5,663.3 L333.5,663.5 L334.5,663.7 L335.5,663.9 L336.5,664.1 L337.5,664.3 L338.5,664.5" fill="none" stroke="#000080" stroke-width="2.1" stroke-linejoin="round" clip-path="url(#cc)"/>
<path d="M55.5,611.3 L56.5,610.6 L57.5,609.9 L58.5,609.2 L59.5,608.5 L60.5,607.7 L61.5,607 L62.5,606.3 L63.5,605.6 L64.5,604.9 L65.5,604.2 L66.5,603.5 L67.5,602.7 L68.5,602 L69.5,601.3 L70.5,600.5 L71.5,599.8 L72.5,599 L73.5,598.3 L74.5,597.5 L75.5,596.7 L76.5,596 L77.5,595.2 L78.5,594.4 L79.5,593.7 L80.5,593 L81.5,592.3 L82.5,591.6 L83.5,591 L84.5,590.4 L85.5,589.9 L86.5,589.4 L87.5,589 L88.5,588.6 L89.5,588.3 L90.5,588 L91.5,587.7 L92.5,587.4 L93.5,587.1 L94.5,586.8 L95.5,586.6 L96.5,586.3 L97.5,585.9 L98.5,585.6 L99.5,585.3 L100.5,584.9 L101.5,584.5 L102.5,584.1 L103.5,583.6 L104.5,583.1 L105.5,582.5 L106.5,581.8 L107.5,581.1 L108.5,580.3 L109.5,579.4 L110.5,578.4 L111.5,577.4 L112.5,576.2 L113.5,575 L114.5,573.7 L115.5,572.2 L116.5,570.8 L117.5,569.2 L118.5,567.5 L119.5,565.8 L120.5,564 L121.5,562.1 L122.5,560.1 L123.5,558.1 L124.5,556 L125.5,553.7 L126.5,551.4 L127.5,548.9 L128.5,546.3 L129.5,543.5 L130.5,540.6 L131.5,537.5 L132.5,534.3 L133.5,530.9 L134.5,527.5 L135.5,524 L136.5,520.4 L137.5,516.7 L138.5,513.1 L139.5,509.3 L140.5,505.6 L141.5,501.8 L142.5,497.9 L143.5,494.1 L144.5,490.2 L145.5,486.3 L146.5,482.4 L147.5,478.5 L148.5,474.5 L149.5,470.6 L150.5,466.8 L151.5,463 L152.5,459.2 L153.5,455.6 L154.5,451.9 L155.5,448.4 L156.5,445 L157.5,441.6 L158.5,438.4 L159.5,435.3 L160.5,432.4 L161.5,429.7 L162.5,427.1 L163.5,424.8 L164.5,422.7 L165.5,420.8 L166.5,419.1 L167.5,417.7 L168.5,416.5 L169.5,415.5 L170.5,414.7 L171.5,414.1 L172.5,413.6 L173.5,413.4 L174.5,413.4 L175.5,413.5 L176.5,413.8 L177.5,414.4 L178.5,415.1 L179.5,416.1 L180.5,417.4 L181.5,418.8 L182.5,420.6 L183.5,422.5 L184.5,424.7 L185.5,427 L186.5,429.5 L187.5,432.2 L188.5,435 L189.5,437.9 L190.5,440.9 L191.5,443.9 L192.5,447 L193.5,450.2 L194.5,453.4 L195.5,456.7 L196.5,460 L197.5,463.5 L198.5,467 L199.5,470.5 L200.5,474.2 L201.5,478.1 L202.5,482 L203.5,486 L204.5,490.2 L205.5,494.4 L206.5,498.6 L207.5,502.9 L208.5,507.2 L209.5,511.5 L210.5,515.8 L211.5,520 L212.5,524.1 L213.5,528.2 L214.5,532.1 L215.5,536 L216.5,539.7 L217.5,543.2 L218.5,546.6 L219.5,549.8 L220.5,552.9 L221.5,555.9 L222.5,558.8 L223.5,561.6 L224.5,564.4 L225.5,567 L226.5,569.6 L227.5,572.1 L228.5,574.5 L229.5,576.9 L230.5,579.2 L231.5,581.4 L232.5,583.6 L233.5,585.6 L234.5,587.6 L235.5,589.6 L236.5,591.4 L237.5,593.3 L238.5,595 L239.5,596.7 L240.5,598.3 L241.5,599.9 L242.5,601.5 L243.5,603 L244.5,604.5 L245.5,606 L246.5,607.4 L247.5,608.8 L248.5,610.2 L249.5,611.6 L250.5,613 L251.5,614.3 L252.5,615.5 L253.5,616.8 L254.5,617.9 L255.5,619.1 L256.5,620.2 L257.5,621.2 L258.5,622.2 L259.5,623.1 L260.5,624 L261.5,624.8 L262.5,625.7 L263.5,626.5 L264.5,627.3 L265.5,628.1 L266.5,628.9 L267.5,629.7 L268.5,630.5 L269.5,631.3 L270.5,632.1 L271.5,632.8 L272.5,633.6 L273.5,634.4 L274.5,635.2 L275.5,636 L276.5,636.8 L277.5,637.7 L278.5,638.5 L279.5,639.4 L280.5,640.2 L281.5,641.1 L282.5,642 L283.5,642.8 L284.5,643.7 L285.5,644.5 L286.5,645.3 L287.5,646.1 L288.5,646.9 L289.5,647.6 L290.5,648.3 L291.5,649 L292.5,649.6 L293.5,650.2 L294.5,650.7 L295.5,651.3 L296.5,651.8 L297.5,652.3 L298.5,652.8 L299.5,653.4 L300.5,653.9 L301.5,654.4 L302.5,654.9 L303.5,655.4 L304.5,655.9 L305.5,656.4 L306.5,656.8 L307.5,657.3 L308.5,657.8 L309.5,658.2 L310.5,658.7 L311.5,659.1 L312.5,659.5 L313.5,659.9 L314.5,660.3 L315.5,660.7 L316.5,661.1 L317.5,661.4 L318.5,661.7 L319.5,662.1 L320.5,662.4 L321.5,662.7 L322.5,663 L323.5,663.2 L324.5,663.5 L325.5,663.8 L326.5,664 L327.5,664.3 L328.5,664.5 L329.5,664.7 L330.5,664.9 L331.5,665.1 L332.5,665.3 L333.5,665.6 L334.5,665.8 L335.5,665.9 L336.5,666.1 L337.5,666.3 L338.5,666.5" fill="none" stroke="#800080" stroke-width="2.1" stroke-linejoin="round" clip-path="url(#cc)"/>
<path d="M411,397.3 H683.8 V685" fill="none" stroke="#c8c8c8" stroke-width="1"/>
<line x1="411" y1="395.8" x2="411" y2="686.1" stroke="#000" stroke-width="2.2"/>
<line x1="409.9" y1="685" x2="684.1" y2="685" stroke="#000" stroke-width="2.2"/>
<line x1="406" y1="596.4" x2="411" y2="596.4" stroke="#000" stroke-width="2"/>
<line x1="406" y1="507.5" x2="411" y2="507.5" stroke="#000" stroke-width="2"/>
<line x1="406" y1="418.6" x2="411" y2="418.6" stroke="#000" stroke-width="2"/>
<line x1="406" y1="685" x2="411" y2="685" stroke="#000" stroke-width="2"/>
<line x1="408" y1="640.8" x2="411" y2="640.8" stroke="#000" stroke-width="2"/>
<line x1="408" y1="551.9" x2="411" y2="551.9" stroke="#000" stroke-width="2"/>
<line x1="408" y1="463" x2="411" y2="463" stroke="#000" stroke-width="2"/>
<line x1="449.8" y1="685" x2="449.8" y2="691.5" stroke="#000" stroke-width="2"/>
<line x1="501.7" y1="685" x2="501.7" y2="691.5" stroke="#000" stroke-width="2"/>
<line x1="553.7" y1="685" x2="553.7" y2="691.5" stroke="#000" stroke-width="2"/>
<line x1="605.6" y1="685" x2="605.6" y2="691.5" stroke="#000" stroke-width="2"/>
<line x1="657.6" y1="685" x2="657.6" y2="691.5" stroke="#000" stroke-width="2"/>
<line x1="423.8" y1="685" x2="423.8" y2="688.5" stroke="#000" stroke-width="2"/>
<line x1="475.7" y1="685" x2="475.7" y2="688.5" stroke="#000" stroke-width="2"/>
<line x1="527.7" y1="685" x2="527.7" y2="688.5" stroke="#000" stroke-width="2"/>
<line x1="579.7" y1="685" x2="579.7" y2="688.5" stroke="#000" stroke-width="2"/>
<line x1="631.6" y1="685" x2="631.6" y2="688.5" stroke="#000" stroke-width="2"/>
<line x1="683.6" y1="685" x2="683.6" y2="688.5" stroke="#000" stroke-width="2"/>
<text x="404.2" y="691.3" font-size="14.5" text-anchor="end">0</text>
<text x="404.2" y="602.4" font-size="14.5" text-anchor="end">10</text>
<text x="404.2" y="513.5" font-size="14.5" text-anchor="end">20</text>
<text x="404.2" y="424.6" font-size="14.5" text-anchor="end">30</text>
<text x="449.8" y="711.9" font-size="14.5" text-anchor="middle">4</text>
<text x="501.7" y="711.9" font-size="14.5" text-anchor="middle">8</text>
<text x="553.7" y="711.9" font-size="14.5" text-anchor="middle">12</text>
<text x="605.6" y="711.9" font-size="14.5" text-anchor="middle">16</text>
<text x="657.6" y="711.9" font-size="14.5" text-anchor="middle">20</text>
<text x="517.6" y="733.4" font-size="12" text-anchor="start" font-weight="bold" textLength="51.5" lengthAdjust="spacing">[DA] / μA</text>
<text transform="translate(378,534.6) rotate(-90)" font-size="10.8" font-weight="bold" text-anchor="middle" textLength="31.5" lengthAdjust="spacing">I / μ A</text>
<text x="557.5" y="448.6" font-size="14" text-anchor="start" font-weight="bold">(d)</text>
<text x="447.8" y="493" font-size="14.5" text-anchor="start" font-weight="bold">R</text>
<text x="457.9" y="481.6" font-size="9.5" text-anchor="start" font-weight="bold">2</text>
<text x="466.3" y="493" font-size="14.6" text-anchor="start" font-weight="bold">= 0.997</text>
<clipPath id="cd"><rect x="412" y="396" width="271.8" height="288"/></clipPath>
<line x1="417.4" y1="674.3" x2="690" y2="404.6" stroke="#000" stroke-width="1.8" clip-path="url(#cd)"/>
<rect x="436.6" y="642" width="7.4" height="10.4"/>
<rect x="476" y="607.6" width="7.4" height="10.4"/>
<rect x="512.5" y="570.8" width="7.4" height="10.4"/>
<rect x="546.3" y="543.4" width="7.4" height="10.4"/>
<rect x="608.5" y="486.8" width="7.4" height="10.4"/>
<rect x="635.8" y="451.8" width="7.4" height="10.4"/>
<rect x="661.9" y="413" width="7.4" height="10.4"/>
</svg></body></html>
